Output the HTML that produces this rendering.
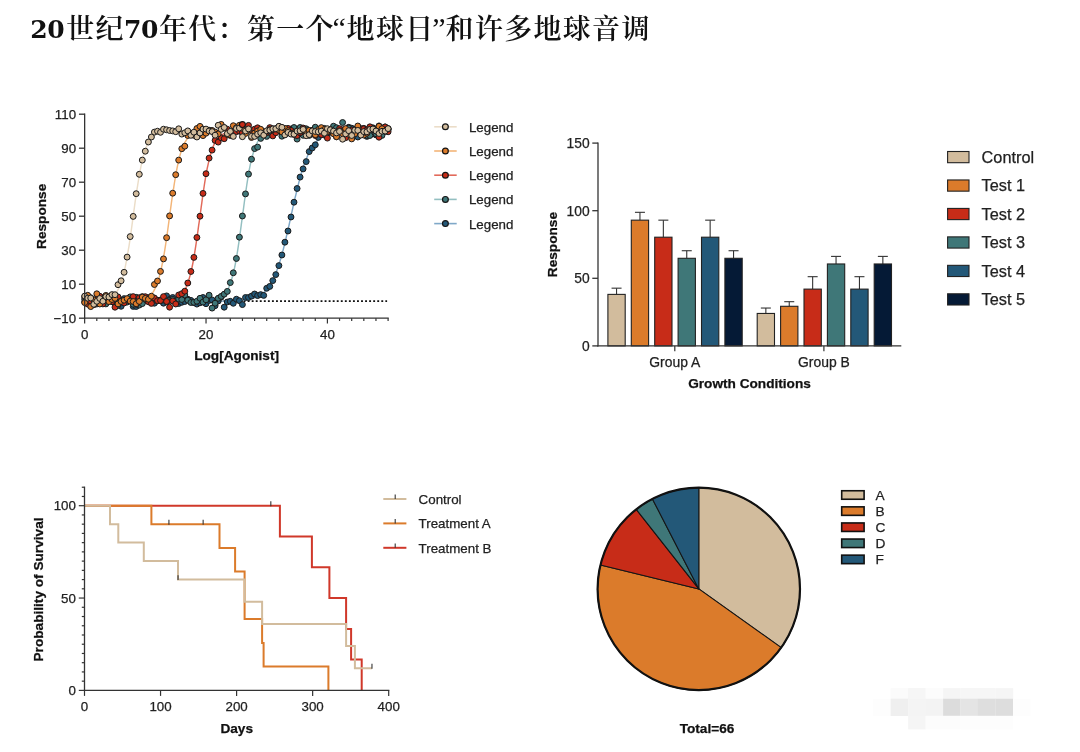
<!DOCTYPE html>
<html lang="zh-CN">
<head>
<meta charset="utf-8">
<title>20世纪70年代：第一个“地球日”和许多地球音调</title>
<style>
html,body{margin:0;padding:0;background:#fff;}
body{width:1080px;height:752px;overflow:hidden;font-family:"Liberation Sans", sans-serif;}
svg{display:block;}
svg text{font-family:"Liberation Sans", sans-serif;}
svg text.ttl{font-family:"Liberation Serif","Noto Serif CJK SC",serif;}
</style>
</head>
<body>
<svg width="1080" height="752" viewBox="0 0 1080 752">
<rect width="1080" height="752" fill="#ffffff"/>
<text class="ttl" y="37.4" fill="#111"><tspan x="30.2" y="37.9" font-weight="700" letter-spacing="-0.4" font-size="25" font-family='"DejaVu Serif", "Liberation Serif", serif'>20</tspan><tspan x="66.3" y="39.3" font-weight="600" letter-spacing="1.3" font-size="28">世纪</tspan><tspan x="124.0" y="37.9" font-weight="700" letter-spacing="-0.4" font-size="25" font-family='"DejaVu Serif", "Liberation Serif", serif'>70</tspan><tspan x="159.0" y="39.3" font-weight="600" letter-spacing="1.3" font-size="28">年代：第一个</tspan><tspan x="332.5" y="38.2" font-weight="400" letter-spacing="0" font-size="30">“</tspan><tspan x="346.6" y="39.3" font-weight="600" letter-spacing="1.3" font-size="28">地球日</tspan><tspan x="432.3" y="38.2" font-weight="400" letter-spacing="0" font-size="30">”</tspan><tspan x="445.6" y="39.3" font-weight="600" letter-spacing="1.3" font-size="28">和许多地球音调</tspan></text>
<line x1="85.65" y1="301.20" x2="387.10" y2="301.20" stroke="#111" stroke-width="1.8" stroke-dasharray="1.9 2.15"/>
<polyline fill="none" stroke="#7FA8C8" stroke-width="1.45" points="84.7,301.2 85.3,301.2 85.9,301.2 86.5,301.2 87.1,301.2 87.7,301.2 88.3,301.2 88.9,301.2 89.5,301.2 90.1,301.2 90.7,301.2 91.3,301.2 91.9,301.2 92.5,301.2 93.1,301.2 93.8,301.2 94.4,301.2 95.0,301.2 95.6,301.2 96.2,301.2 96.8,301.2 97.4,301.2 98.0,301.2 98.6,301.2 99.2,301.2 99.8,301.2 100.4,301.2 101.0,301.2 101.6,301.2 102.3,301.2 102.9,301.2 103.5,301.2 104.1,301.2 104.7,301.2 105.3,301.2 105.9,301.2 106.5,301.2 107.1,301.2 107.7,301.2 108.3,301.2 108.9,301.2 109.5,301.2 110.1,301.2 110.7,301.2 111.4,301.2 112.0,301.2 112.6,301.2 113.2,301.2 113.8,301.2 114.4,301.2 115.0,301.2 115.6,301.2 116.2,301.2 116.8,301.2 117.4,301.2 118.0,301.2 118.6,301.2 119.2,301.2 119.9,301.2 120.5,301.2 121.1,301.2 121.7,301.2 122.3,301.2 122.9,301.2 123.5,301.2 124.1,301.2 124.7,301.2 125.3,301.2 125.9,301.2 126.5,301.2 127.1,301.2 127.7,301.2 128.3,301.2 129.0,301.2 129.6,301.2 130.2,301.2 130.8,301.2 131.4,301.2 132.0,301.2 132.6,301.2 133.2,301.2 133.8,301.2 134.4,301.2 135.0,301.2 135.6,301.2 136.2,301.2 136.8,301.2 137.5,301.2 138.1,301.2 138.7,301.2 139.3,301.2 139.9,301.2 140.5,301.2 141.1,301.2 141.7,301.2 142.3,301.2 142.9,301.2 143.5,301.2 144.1,301.2 144.7,301.2 145.3,301.2 145.9,301.2 146.6,301.2 147.2,301.2 147.8,301.2 148.4,301.2 149.0,301.2 149.6,301.2 150.2,301.2 150.8,301.2 151.4,301.2 152.0,301.2 152.6,301.2 153.2,301.2 153.8,301.2 154.4,301.2 155.1,301.2 155.7,301.2 156.3,301.2 156.9,301.2 157.5,301.2 158.1,301.2 158.7,301.2 159.3,301.2 159.9,301.2 160.5,301.2 161.1,301.2 161.7,301.2 162.3,301.2 162.9,301.2 163.5,301.2 164.2,301.2 164.8,301.2 165.4,301.2 166.0,301.2 166.6,301.2 167.2,301.2 167.8,301.2 168.4,301.2 169.0,301.2 169.6,301.2 170.2,301.2 170.8,301.2 171.4,301.2 172.0,301.2 172.7,301.2 173.3,301.2 173.9,301.2 174.5,301.2 175.1,301.2 175.7,301.2 176.3,301.2 176.9,301.2 177.5,301.2 178.1,301.2 178.7,301.2 179.3,301.2 179.9,301.2 180.5,301.2 181.1,301.2 181.8,301.2 182.4,301.2 183.0,301.2 183.6,301.2 184.2,301.2 184.8,301.2 185.4,301.2 186.0,301.2 186.6,301.2 187.2,301.2 187.8,301.2 188.4,301.2 189.0,301.2 189.6,301.2 190.3,301.2 190.9,301.2 191.5,301.2 192.1,301.2 192.7,301.2 193.3,301.2 193.9,301.2 194.5,301.2 195.1,301.2 195.7,301.2 196.3,301.2 196.9,301.2 197.5,301.2 198.1,301.2 198.7,301.2 199.4,301.2 200.0,301.2 200.6,301.2 201.2,301.2 201.8,301.2 202.4,301.2 203.0,301.2 203.6,301.2 204.2,301.2 204.8,301.2 205.4,301.2 206.0,301.2 206.6,301.2 207.2,301.2 207.9,301.2 208.5,301.2 209.1,301.2 209.7,301.2 210.3,301.2 210.9,301.2 211.5,301.2 212.1,301.2 212.7,301.2 213.3,301.2 213.9,301.2 214.5,301.2 215.1,301.1 215.7,301.1 216.3,301.1 217.0,301.1 217.6,301.1 218.2,301.1 218.8,301.1 219.4,301.1 220.0,301.1 220.6,301.1 221.2,301.1 221.8,301.1 222.4,301.1 223.0,301.1 223.6,301.1 224.2,301.1 224.8,301.1 225.5,301.0 226.1,301.0 226.7,301.0 227.3,301.0 227.9,301.0 228.5,301.0 229.1,301.0 229.7,301.0 230.3,300.9 230.9,300.9 231.5,300.9 232.1,300.9 232.7,300.9 233.3,300.8 233.9,300.8 234.6,300.8 235.2,300.8 235.8,300.7 236.4,300.7 237.0,300.7 237.6,300.6 238.2,300.6 238.8,300.6 239.4,300.5 240.0,300.5 240.6,300.4 241.2,300.4 241.8,300.3 242.4,300.3 243.1,300.2 243.7,300.1 244.3,300.1 244.9,300.0 245.5,299.9 246.1,299.8 246.7,299.7 247.3,299.6 247.9,299.5 248.5,299.4 249.1,299.3 249.7,299.2 250.3,299.0 250.9,298.9 251.5,298.7 252.2,298.6 252.8,298.4 253.4,298.2 254.0,298.0 254.6,297.8 255.2,297.6 255.8,297.4 256.4,297.1 257.0,296.9 257.6,296.6 258.2,296.3 258.8,295.9 259.4,295.6 260.0,295.2 260.7,294.9 261.3,294.4 261.9,294.0 262.5,293.5 263.1,293.1 263.7,292.5 264.3,292.0 264.9,291.4 265.5,290.8 266.1,290.1 266.7,289.4 267.3,288.7 267.9,287.9 268.5,287.1 269.1,286.3 269.8,285.4 270.4,284.4 271.0,283.4 271.6,282.3 272.2,281.2 272.8,280.0 273.4,278.8 274.0,277.5 274.6,276.1 275.2,274.7 275.8,273.2 276.4,271.7 277.0,270.1 277.6,268.4 278.3,266.6 278.9,264.8 279.5,262.9 280.1,260.9 280.7,258.9 281.3,256.8 281.9,254.6 282.5,252.4 283.1,250.1 283.7,247.8 284.3,245.4 284.9,242.9 285.5,240.4 286.1,237.8 286.7,235.2 287.4,232.6 288.0,229.9 288.6,227.2 289.2,224.5 289.8,221.7 290.4,219.0 291.0,216.2 291.6,213.4 292.2,210.7 292.8,207.9 293.4,205.2 294.0,202.5 294.6,199.8 295.2,197.2 295.9,194.6 296.5,192.0 297.1,189.5 297.7,187.0 298.3,184.6 298.9,182.3 299.5,180.0 300.1,177.8 300.7,175.6 301.3,173.5 301.9,171.5 302.5,169.5 303.1,167.6 303.7,165.8 304.3,164.0 305.0,162.3 305.6,160.7 306.2,159.2 306.8,157.7 307.4,156.3 308.0,154.9 308.6,153.6 309.2,152.4 309.8,151.2 310.4,150.1 311.0,149.0 311.6,148.0 312.2,147.0 312.8,146.1 313.5,145.3 314.1,144.5 314.7,143.7 315.3,143.0 315.9,142.3 316.5,141.6 317.1,141.0 317.7,140.4 318.3,139.9 318.9,139.3 319.5,138.9 320.1,138.4 320.7,138.0 321.3,137.5 321.9,137.2 322.6,136.8 323.2,136.5 323.8,136.1 324.4,135.8 325.0,135.5 325.6,135.3 326.2,135.0 326.8,134.8 327.4,134.6 328.0,134.4 328.6,134.2 329.2,134.0 329.8,133.8 330.4,133.7 331.1,133.5 331.7,133.4 332.3,133.2 332.9,133.1 333.5,133.0 334.1,132.9 334.7,132.8 335.3,132.7 335.9,132.6 336.5,132.5 337.1,132.4 337.7,132.3 338.3,132.3 338.9,132.2 339.5,132.1 340.2,132.1 340.8,132.0 341.4,132.0 342.0,131.9 342.6,131.9 343.2,131.8 343.8,131.8 344.4,131.8 345.0,131.7 345.6,131.7 346.2,131.7 346.8,131.6 347.4,131.6 348.0,131.6 348.7,131.6 349.3,131.5 349.9,131.5 350.5,131.5 351.1,131.5 351.7,131.5 352.3,131.4 352.9,131.4 353.5,131.4 354.1,131.4 354.7,131.4 355.3,131.4 355.9,131.4 356.5,131.4 357.1,131.3 357.8,131.3 358.4,131.3 359.0,131.3 359.6,131.3 360.2,131.3 360.8,131.3 361.4,131.3 362.0,131.3 362.6,131.3 363.2,131.3 363.8,131.3 364.4,131.3 365.0,131.3 365.6,131.3 366.3,131.3 366.9,131.3 367.5,131.2 368.1,131.2 368.7,131.2 369.3,131.2 369.9,131.2 370.5,131.2 371.1,131.2 371.7,131.2 372.3,131.2 372.9,131.2 373.5,131.2 374.1,131.2 374.7,131.2 375.4,131.2 376.0,131.2 376.6,131.2 377.2,131.2 377.8,131.2 378.4,131.2 379.0,131.2 379.6,131.2 380.2,131.2 380.8,131.2 381.4,131.2 382.0,131.2 382.6,131.2 383.2,131.2 383.9,131.2 384.5,131.2 385.1,131.2 385.7,131.2 386.3,131.2 386.9,131.2 387.5,131.2 388.1,131.2"/>
<polyline fill="none" stroke="#93BFC1" stroke-width="1.45" points="84.7,301.2 85.3,301.2 85.9,301.2 86.5,301.2 87.1,301.2 87.7,301.2 88.3,301.2 88.9,301.2 89.5,301.2 90.1,301.2 90.7,301.2 91.3,301.2 91.9,301.2 92.5,301.2 93.1,301.2 93.8,301.2 94.4,301.2 95.0,301.2 95.6,301.2 96.2,301.2 96.8,301.2 97.4,301.2 98.0,301.2 98.6,301.2 99.2,301.2 99.8,301.2 100.4,301.2 101.0,301.2 101.6,301.2 102.3,301.2 102.9,301.2 103.5,301.2 104.1,301.2 104.7,301.2 105.3,301.2 105.9,301.2 106.5,301.2 107.1,301.2 107.7,301.2 108.3,301.2 108.9,301.2 109.5,301.2 110.1,301.2 110.7,301.2 111.4,301.2 112.0,301.2 112.6,301.2 113.2,301.2 113.8,301.2 114.4,301.2 115.0,301.2 115.6,301.2 116.2,301.2 116.8,301.2 117.4,301.2 118.0,301.2 118.6,301.2 119.2,301.2 119.9,301.2 120.5,301.2 121.1,301.2 121.7,301.2 122.3,301.2 122.9,301.2 123.5,301.2 124.1,301.2 124.7,301.2 125.3,301.2 125.9,301.2 126.5,301.2 127.1,301.2 127.7,301.2 128.3,301.2 129.0,301.2 129.6,301.2 130.2,301.2 130.8,301.2 131.4,301.2 132.0,301.2 132.6,301.2 133.2,301.2 133.8,301.2 134.4,301.2 135.0,301.2 135.6,301.2 136.2,301.2 136.8,301.2 137.5,301.2 138.1,301.2 138.7,301.2 139.3,301.2 139.9,301.2 140.5,301.2 141.1,301.2 141.7,301.2 142.3,301.2 142.9,301.2 143.5,301.2 144.1,301.2 144.7,301.2 145.3,301.2 145.9,301.2 146.6,301.2 147.2,301.2 147.8,301.2 148.4,301.2 149.0,301.2 149.6,301.2 150.2,301.2 150.8,301.2 151.4,301.2 152.0,301.2 152.6,301.2 153.2,301.2 153.8,301.2 154.4,301.2 155.1,301.2 155.7,301.2 156.3,301.2 156.9,301.2 157.5,301.2 158.1,301.2 158.7,301.2 159.3,301.2 159.9,301.2 160.5,301.2 161.1,301.2 161.7,301.2 162.3,301.2 162.9,301.2 163.5,301.2 164.2,301.2 164.8,301.2 165.4,301.2 166.0,301.2 166.6,301.2 167.2,301.2 167.8,301.2 168.4,301.2 169.0,301.2 169.6,301.2 170.2,301.2 170.8,301.2 171.4,301.2 172.0,301.2 172.7,301.2 173.3,301.2 173.9,301.2 174.5,301.2 175.1,301.2 175.7,301.2 176.3,301.2 176.9,301.2 177.5,301.2 178.1,301.2 178.7,301.2 179.3,301.2 179.9,301.2 180.5,301.2 181.1,301.2 181.8,301.2 182.4,301.2 183.0,301.2 183.6,301.2 184.2,301.2 184.8,301.2 185.4,301.2 186.0,301.2 186.6,301.2 187.2,301.2 187.8,301.2 188.4,301.2 189.0,301.2 189.6,301.2 190.3,301.2 190.9,301.2 191.5,301.2 192.1,301.2 192.7,301.2 193.3,301.2 193.9,301.2 194.5,301.2 195.1,301.2 195.7,301.2 196.3,301.2 196.9,301.1 197.5,301.1 198.1,301.1 198.7,301.1 199.4,301.1 200.0,301.1 200.6,301.1 201.2,301.1 201.8,301.1 202.4,301.1 203.0,301.0 203.6,301.0 204.2,301.0 204.8,301.0 205.4,301.0 206.0,300.9 206.6,300.9 207.2,300.9 207.9,300.8 208.5,300.8 209.1,300.8 209.7,300.7 210.3,300.6 210.9,300.6 211.5,300.5 212.1,300.4 212.7,300.3 213.3,300.3 213.9,300.1 214.5,300.0 215.1,299.9 215.7,299.7 216.3,299.6 217.0,299.4 217.6,299.2 218.2,299.0 218.8,298.7 219.4,298.4 220.0,298.1 220.6,297.8 221.2,297.4 221.8,297.0 222.4,296.5 223.0,296.0 223.6,295.4 224.2,294.8 224.8,294.1 225.5,293.3 226.1,292.5 226.7,291.5 227.3,290.5 227.9,289.4 228.5,288.1 229.1,286.7 229.7,285.3 230.3,283.6 230.9,281.8 231.5,279.9 232.1,277.8 232.7,275.6 233.3,273.1 233.9,270.5 234.6,267.7 235.2,264.7 235.8,261.5 236.4,258.1 237.0,254.5 237.6,250.8 238.2,246.9 238.8,242.8 239.4,238.6 240.0,234.3 240.6,229.9 241.2,225.3 241.8,220.8 242.4,216.2 243.1,211.6 243.7,207.1 244.3,202.5 244.9,198.1 245.5,193.8 246.1,189.6 246.7,185.5 247.3,181.6 247.9,177.9 248.5,174.3 249.1,170.9 249.7,167.7 250.3,164.7 250.9,161.9 251.5,159.3 252.2,156.8 252.8,154.6 253.4,152.5 254.0,150.6 254.6,148.8 255.2,147.1 255.8,145.7 256.4,144.3 257.0,143.0 257.6,141.9 258.2,140.9 258.8,139.9 259.4,139.1 260.0,138.3 260.7,137.6 261.3,137.0 261.9,136.4 262.5,135.9 263.1,135.4 263.7,135.0 264.3,134.6 264.9,134.3 265.5,134.0 266.1,133.7 266.7,133.4 267.3,133.2 267.9,133.0 268.5,132.8 269.1,132.7 269.8,132.5 270.4,132.4 271.0,132.3 271.6,132.1 272.2,132.1 272.8,132.0 273.4,131.9 274.0,131.8 274.6,131.8 275.2,131.7 275.8,131.6 276.4,131.6 277.0,131.6 277.6,131.5 278.3,131.5 278.9,131.5 279.5,131.4 280.1,131.4 280.7,131.4 281.3,131.4 281.9,131.4 282.5,131.3 283.1,131.3 283.7,131.3 284.3,131.3 284.9,131.3 285.5,131.3 286.1,131.3 286.7,131.3 287.4,131.3 288.0,131.3 288.6,131.2 289.2,131.2 289.8,131.2 290.4,131.2 291.0,131.2 291.6,131.2 292.2,131.2 292.8,131.2 293.4,131.2 294.0,131.2 294.6,131.2 295.2,131.2 295.9,131.2 296.5,131.2 297.1,131.2 297.7,131.2 298.3,131.2 298.9,131.2 299.5,131.2 300.1,131.2 300.7,131.2 301.3,131.2 301.9,131.2 302.5,131.2 303.1,131.2 303.7,131.2 304.3,131.2 305.0,131.2 305.6,131.2 306.2,131.2 306.8,131.2 307.4,131.2 308.0,131.2 308.6,131.2 309.2,131.2 309.8,131.2 310.4,131.2 311.0,131.2 311.6,131.2 312.2,131.2 312.8,131.2 313.5,131.2 314.1,131.2 314.7,131.2 315.3,131.2 315.9,131.2 316.5,131.2 317.1,131.2 317.7,131.2 318.3,131.2 318.9,131.2 319.5,131.2 320.1,131.2 320.7,131.2 321.3,131.2 321.9,131.2 322.6,131.2 323.2,131.2 323.8,131.2 324.4,131.2 325.0,131.2 325.6,131.2 326.2,131.2 326.8,131.2 327.4,131.2 328.0,131.2 328.6,131.2 329.2,131.2 329.8,131.2 330.4,131.2 331.1,131.2 331.7,131.2 332.3,131.2 332.9,131.2 333.5,131.2 334.1,131.2 334.7,131.2 335.3,131.2 335.9,131.2 336.5,131.2 337.1,131.2 337.7,131.2 338.3,131.2 338.9,131.2 339.5,131.2 340.2,131.2 340.8,131.2 341.4,131.2 342.0,131.2 342.6,131.2 343.2,131.2 343.8,131.2 344.4,131.2 345.0,131.2 345.6,131.2 346.2,131.2 346.8,131.2 347.4,131.2 348.0,131.2 348.7,131.2 349.3,131.2 349.9,131.2 350.5,131.2 351.1,131.2 351.7,131.2 352.3,131.2 352.9,131.2 353.5,131.2 354.1,131.2 354.7,131.2 355.3,131.2 355.9,131.2 356.5,131.2 357.1,131.2 357.8,131.2 358.4,131.2 359.0,131.2 359.6,131.2 360.2,131.2 360.8,131.2 361.4,131.2 362.0,131.2 362.6,131.2 363.2,131.2 363.8,131.2 364.4,131.2 365.0,131.2 365.6,131.2 366.3,131.2 366.9,131.2 367.5,131.2 368.1,131.2 368.7,131.2 369.3,131.2 369.9,131.2 370.5,131.2 371.1,131.2 371.7,131.2 372.3,131.2 372.9,131.2 373.5,131.2 374.1,131.2 374.7,131.2 375.4,131.2 376.0,131.2 376.6,131.2 377.2,131.2 377.8,131.2 378.4,131.2 379.0,131.2 379.6,131.2 380.2,131.2 380.8,131.2 381.4,131.2 382.0,131.2 382.6,131.2 383.2,131.2 383.9,131.2 384.5,131.2 385.1,131.2 385.7,131.2 386.3,131.2 386.9,131.2 387.5,131.2 388.1,131.2"/>
<polyline fill="none" stroke="#E26A5A" stroke-width="1.45" points="84.7,301.2 85.3,301.2 85.9,301.2 86.5,301.2 87.1,301.2 87.7,301.2 88.3,301.2 88.9,301.2 89.5,301.2 90.1,301.2 90.7,301.2 91.3,301.2 91.9,301.2 92.5,301.2 93.1,301.2 93.8,301.2 94.4,301.2 95.0,301.2 95.6,301.2 96.2,301.2 96.8,301.2 97.4,301.2 98.0,301.2 98.6,301.2 99.2,301.2 99.8,301.2 100.4,301.2 101.0,301.2 101.6,301.2 102.3,301.2 102.9,301.2 103.5,301.2 104.1,301.2 104.7,301.2 105.3,301.2 105.9,301.2 106.5,301.2 107.1,301.2 107.7,301.2 108.3,301.2 108.9,301.2 109.5,301.2 110.1,301.2 110.7,301.2 111.4,301.2 112.0,301.2 112.6,301.2 113.2,301.2 113.8,301.2 114.4,301.2 115.0,301.2 115.6,301.2 116.2,301.2 116.8,301.2 117.4,301.2 118.0,301.2 118.6,301.2 119.2,301.2 119.9,301.2 120.5,301.2 121.1,301.2 121.7,301.2 122.3,301.2 122.9,301.2 123.5,301.2 124.1,301.2 124.7,301.2 125.3,301.2 125.9,301.2 126.5,301.2 127.1,301.2 127.7,301.2 128.3,301.2 129.0,301.2 129.6,301.2 130.2,301.2 130.8,301.2 131.4,301.2 132.0,301.2 132.6,301.2 133.2,301.2 133.8,301.2 134.4,301.2 135.0,301.2 135.6,301.2 136.2,301.2 136.8,301.2 137.5,301.2 138.1,301.2 138.7,301.2 139.3,301.2 139.9,301.2 140.5,301.2 141.1,301.2 141.7,301.2 142.3,301.2 142.9,301.2 143.5,301.2 144.1,301.2 144.7,301.2 145.3,301.2 145.9,301.2 146.6,301.2 147.2,301.2 147.8,301.2 148.4,301.2 149.0,301.2 149.6,301.2 150.2,301.2 150.8,301.2 151.4,301.2 152.0,301.2 152.6,301.2 153.2,301.2 153.8,301.1 154.4,301.1 155.1,301.1 155.7,301.1 156.3,301.1 156.9,301.1 157.5,301.1 158.1,301.1 158.7,301.1 159.3,301.1 159.9,301.0 160.5,301.0 161.1,301.0 161.7,301.0 162.3,301.0 162.9,300.9 163.5,300.9 164.2,300.9 164.8,300.8 165.4,300.8 166.0,300.8 166.6,300.7 167.2,300.6 167.8,300.6 168.4,300.5 169.0,300.4 169.6,300.4 170.2,300.3 170.8,300.2 171.4,300.0 172.0,299.9 172.7,299.8 173.3,299.6 173.9,299.4 174.5,299.2 175.1,299.0 175.7,298.8 176.3,298.5 176.9,298.2 177.5,297.9 178.1,297.5 178.7,297.1 179.3,296.7 179.9,296.2 180.5,295.7 181.1,295.1 181.8,294.4 182.4,293.7 183.0,292.9 183.6,292.0 184.2,291.0 184.8,290.0 185.4,288.8 186.0,287.5 186.6,286.2 187.2,284.6 187.8,283.0 188.4,281.2 189.0,279.2 189.6,277.1 190.3,274.9 190.9,272.4 191.5,269.8 192.1,267.0 192.7,264.0 193.3,260.8 193.9,257.5 194.5,253.9 195.1,250.2 195.7,246.4 196.3,242.4 196.9,238.2 197.5,234.0 198.1,229.6 198.7,225.2 199.4,220.7 200.0,216.2 200.6,211.7 201.2,207.2 201.8,202.8 202.4,198.4 203.0,194.2 203.6,190.0 204.2,186.0 204.8,182.2 205.4,178.5 206.0,174.9 206.6,171.6 207.2,168.4 207.9,165.4 208.5,162.6 209.1,160.0 209.7,157.5 210.3,155.3 210.9,153.2 211.5,151.2 212.1,149.4 212.7,147.8 213.3,146.2 213.9,144.9 214.5,143.6 215.1,142.4 215.7,141.4 216.3,140.4 217.0,139.5 217.6,138.7 218.2,138.0 218.8,137.3 219.4,136.7 220.0,136.2 220.6,135.7 221.2,135.3 221.8,134.9 222.4,134.5 223.0,134.2 223.6,133.9 224.2,133.6 224.8,133.4 225.5,133.2 226.1,133.0 226.7,132.8 227.3,132.6 227.9,132.5 228.5,132.4 229.1,132.2 229.7,132.1 230.3,132.0 230.9,132.0 231.5,131.9 232.1,131.8 232.7,131.8 233.3,131.7 233.9,131.6 234.6,131.6 235.2,131.6 235.8,131.5 236.4,131.5 237.0,131.5 237.6,131.4 238.2,131.4 238.8,131.4 239.4,131.4 240.0,131.4 240.6,131.3 241.2,131.3 241.8,131.3 242.4,131.3 243.1,131.3 243.7,131.3 244.3,131.3 244.9,131.3 245.5,131.3 246.1,131.3 246.7,131.2 247.3,131.2 247.9,131.2 248.5,131.2 249.1,131.2 249.7,131.2 250.3,131.2 250.9,131.2 251.5,131.2 252.2,131.2 252.8,131.2 253.4,131.2 254.0,131.2 254.6,131.2 255.2,131.2 255.8,131.2 256.4,131.2 257.0,131.2 257.6,131.2 258.2,131.2 258.8,131.2 259.4,131.2 260.0,131.2 260.7,131.2 261.3,131.2 261.9,131.2 262.5,131.2 263.1,131.2 263.7,131.2 264.3,131.2 264.9,131.2 265.5,131.2 266.1,131.2 266.7,131.2 267.3,131.2 267.9,131.2 268.5,131.2 269.1,131.2 269.8,131.2 270.4,131.2 271.0,131.2 271.6,131.2 272.2,131.2 272.8,131.2 273.4,131.2 274.0,131.2 274.6,131.2 275.2,131.2 275.8,131.2 276.4,131.2 277.0,131.2 277.6,131.2 278.3,131.2 278.9,131.2 279.5,131.2 280.1,131.2 280.7,131.2 281.3,131.2 281.9,131.2 282.5,131.2 283.1,131.2 283.7,131.2 284.3,131.2 284.9,131.2 285.5,131.2 286.1,131.2 286.7,131.2 287.4,131.2 288.0,131.2 288.6,131.2 289.2,131.2 289.8,131.2 290.4,131.2 291.0,131.2 291.6,131.2 292.2,131.2 292.8,131.2 293.4,131.2 294.0,131.2 294.6,131.2 295.2,131.2 295.9,131.2 296.5,131.2 297.1,131.2 297.7,131.2 298.3,131.2 298.9,131.2 299.5,131.2 300.1,131.2 300.7,131.2 301.3,131.2 301.9,131.2 302.5,131.2 303.1,131.2 303.7,131.2 304.3,131.2 305.0,131.2 305.6,131.2 306.2,131.2 306.8,131.2 307.4,131.2 308.0,131.2 308.6,131.2 309.2,131.2 309.8,131.2 310.4,131.2 311.0,131.2 311.6,131.2 312.2,131.2 312.8,131.2 313.5,131.2 314.1,131.2 314.7,131.2 315.3,131.2 315.9,131.2 316.5,131.2 317.1,131.2 317.7,131.2 318.3,131.2 318.9,131.2 319.5,131.2 320.1,131.2 320.7,131.2 321.3,131.2 321.9,131.2 322.6,131.2 323.2,131.2 323.8,131.2 324.4,131.2 325.0,131.2 325.6,131.2 326.2,131.2 326.8,131.2 327.4,131.2 328.0,131.2 328.6,131.2 329.2,131.2 329.8,131.2 330.4,131.2 331.1,131.2 331.7,131.2 332.3,131.2 332.9,131.2 333.5,131.2 334.1,131.2 334.7,131.2 335.3,131.2 335.9,131.2 336.5,131.2 337.1,131.2 337.7,131.2 338.3,131.2 338.9,131.2 339.5,131.2 340.2,131.2 340.8,131.2 341.4,131.2 342.0,131.2 342.6,131.2 343.2,131.2 343.8,131.2 344.4,131.2 345.0,131.2 345.6,131.2 346.2,131.2 346.8,131.2 347.4,131.2 348.0,131.2 348.7,131.2 349.3,131.2 349.9,131.2 350.5,131.2 351.1,131.2 351.7,131.2 352.3,131.2 352.9,131.2 353.5,131.2 354.1,131.2 354.7,131.2 355.3,131.2 355.9,131.2 356.5,131.2 357.1,131.2 357.8,131.2 358.4,131.2 359.0,131.2 359.6,131.2 360.2,131.2 360.8,131.2 361.4,131.2 362.0,131.2 362.6,131.2 363.2,131.2 363.8,131.2 364.4,131.2 365.0,131.2 365.6,131.2 366.3,131.2 366.9,131.2 367.5,131.2 368.1,131.2 368.7,131.2 369.3,131.2 369.9,131.2 370.5,131.2 371.1,131.2 371.7,131.2 372.3,131.2 372.9,131.2 373.5,131.2 374.1,131.2 374.7,131.2 375.4,131.2 376.0,131.2 376.6,131.2 377.2,131.2 377.8,131.2 378.4,131.2 379.0,131.2 379.6,131.2 380.2,131.2 380.8,131.2 381.4,131.2 382.0,131.2 382.6,131.2 383.2,131.2 383.9,131.2 384.5,131.2 385.1,131.2 385.7,131.2 386.3,131.2 386.9,131.2 387.5,131.2 388.1,131.2"/>
<polyline fill="none" stroke="#F3B578" stroke-width="1.45" points="84.7,301.2 85.3,301.2 85.9,301.2 86.5,301.2 87.1,301.2 87.7,301.2 88.3,301.2 88.9,301.2 89.5,301.2 90.1,301.2 90.7,301.2 91.3,301.2 91.9,301.2 92.5,301.2 93.1,301.2 93.8,301.2 94.4,301.2 95.0,301.2 95.6,301.2 96.2,301.2 96.8,301.2 97.4,301.2 98.0,301.2 98.6,301.2 99.2,301.2 99.8,301.2 100.4,301.2 101.0,301.2 101.6,301.2 102.3,301.2 102.9,301.2 103.5,301.2 104.1,301.2 104.7,301.2 105.3,301.2 105.9,301.2 106.5,301.2 107.1,301.2 107.7,301.2 108.3,301.2 108.9,301.2 109.5,301.2 110.1,301.2 110.7,301.2 111.4,301.2 112.0,301.2 112.6,301.2 113.2,301.2 113.8,301.2 114.4,301.2 115.0,301.2 115.6,301.2 116.2,301.2 116.8,301.2 117.4,301.2 118.0,301.2 118.6,301.2 119.2,301.2 119.9,301.2 120.5,301.2 121.1,301.2 121.7,301.2 122.3,301.2 122.9,301.1 123.5,301.1 124.1,301.1 124.7,301.1 125.3,301.1 125.9,301.1 126.5,301.1 127.1,301.1 127.7,301.1 128.3,301.1 129.0,301.1 129.6,301.0 130.2,301.0 130.8,301.0 131.4,301.0 132.0,300.9 132.6,300.9 133.2,300.9 133.8,300.9 134.4,300.8 135.0,300.8 135.6,300.7 136.2,300.7 136.8,300.6 137.5,300.6 138.1,300.5 138.7,300.4 139.3,300.3 139.9,300.2 140.5,300.1 141.1,300.0 141.7,299.9 142.3,299.7 142.9,299.5 143.5,299.4 144.1,299.2 144.7,298.9 145.3,298.7 145.9,298.4 146.6,298.1 147.2,297.8 147.8,297.4 148.4,297.0 149.0,296.5 149.6,296.0 150.2,295.5 150.8,294.9 151.4,294.2 152.0,293.5 152.6,292.7 153.2,291.8 153.8,290.8 154.4,289.7 155.1,288.5 155.7,287.3 156.3,285.8 156.9,284.3 157.5,282.7 158.1,280.8 158.7,278.9 159.3,276.8 159.9,274.5 160.5,272.0 161.1,269.4 161.7,266.6 162.3,263.6 162.9,260.5 163.5,257.1 164.2,253.6 164.8,249.9 165.4,246.1 166.0,242.1 166.6,238.0 167.2,233.8 167.8,229.5 168.4,225.1 169.0,220.7 169.6,216.2 170.2,211.7 170.8,207.3 171.4,202.9 172.0,198.6 172.7,194.4 173.3,190.3 173.9,186.3 174.5,182.5 175.1,178.8 175.7,175.3 176.3,171.9 176.9,168.8 177.5,165.8 178.1,163.0 178.7,160.4 179.3,157.9 179.9,155.6 180.5,153.5 181.1,151.6 181.8,149.7 182.4,148.1 183.0,146.6 183.6,145.1 184.2,143.9 184.8,142.7 185.4,141.6 186.0,140.6 186.6,139.7 187.2,138.9 187.8,138.2 188.4,137.5 189.0,136.9 189.6,136.4 190.3,135.9 190.9,135.4 191.5,135.0 192.1,134.6 192.7,134.3 193.3,134.0 193.9,133.7 194.5,133.5 195.1,133.2 195.7,133.0 196.3,132.9 196.9,132.7 197.5,132.5 198.1,132.4 198.7,132.3 199.4,132.2 200.0,132.1 200.6,132.0 201.2,131.9 201.8,131.8 202.4,131.8 203.0,131.7 203.6,131.7 204.2,131.6 204.8,131.6 205.4,131.5 206.0,131.5 206.6,131.5 207.2,131.5 207.9,131.4 208.5,131.4 209.1,131.4 209.7,131.4 210.3,131.3 210.9,131.3 211.5,131.3 212.1,131.3 212.7,131.3 213.3,131.3 213.9,131.3 214.5,131.3 215.1,131.3 215.7,131.3 216.3,131.3 217.0,131.2 217.6,131.2 218.2,131.2 218.8,131.2 219.4,131.2 220.0,131.2 220.6,131.2 221.2,131.2 221.8,131.2 222.4,131.2 223.0,131.2 223.6,131.2 224.2,131.2 224.8,131.2 225.5,131.2 226.1,131.2 226.7,131.2 227.3,131.2 227.9,131.2 228.5,131.2 229.1,131.2 229.7,131.2 230.3,131.2 230.9,131.2 231.5,131.2 232.1,131.2 232.7,131.2 233.3,131.2 233.9,131.2 234.6,131.2 235.2,131.2 235.8,131.2 236.4,131.2 237.0,131.2 237.6,131.2 238.2,131.2 238.8,131.2 239.4,131.2 240.0,131.2 240.6,131.2 241.2,131.2 241.8,131.2 242.4,131.2 243.1,131.2 243.7,131.2 244.3,131.2 244.9,131.2 245.5,131.2 246.1,131.2 246.7,131.2 247.3,131.2 247.9,131.2 248.5,131.2 249.1,131.2 249.7,131.2 250.3,131.2 250.9,131.2 251.5,131.2 252.2,131.2 252.8,131.2 253.4,131.2 254.0,131.2 254.6,131.2 255.2,131.2 255.8,131.2 256.4,131.2 257.0,131.2 257.6,131.2 258.2,131.2 258.8,131.2 259.4,131.2 260.0,131.2 260.7,131.2 261.3,131.2 261.9,131.2 262.5,131.2 263.1,131.2 263.7,131.2 264.3,131.2 264.9,131.2 265.5,131.2 266.1,131.2 266.7,131.2 267.3,131.2 267.9,131.2 268.5,131.2 269.1,131.2 269.8,131.2 270.4,131.2 271.0,131.2 271.6,131.2 272.2,131.2 272.8,131.2 273.4,131.2 274.0,131.2 274.6,131.2 275.2,131.2 275.8,131.2 276.4,131.2 277.0,131.2 277.6,131.2 278.3,131.2 278.9,131.2 279.5,131.2 280.1,131.2 280.7,131.2 281.3,131.2 281.9,131.2 282.5,131.2 283.1,131.2 283.7,131.2 284.3,131.2 284.9,131.2 285.5,131.2 286.1,131.2 286.7,131.2 287.4,131.2 288.0,131.2 288.6,131.2 289.2,131.2 289.8,131.2 290.4,131.2 291.0,131.2 291.6,131.2 292.2,131.2 292.8,131.2 293.4,131.2 294.0,131.2 294.6,131.2 295.2,131.2 295.9,131.2 296.5,131.2 297.1,131.2 297.7,131.2 298.3,131.2 298.9,131.2 299.5,131.2 300.1,131.2 300.7,131.2 301.3,131.2 301.9,131.2 302.5,131.2 303.1,131.2 303.7,131.2 304.3,131.2 305.0,131.2 305.6,131.2 306.2,131.2 306.8,131.2 307.4,131.2 308.0,131.2 308.6,131.2 309.2,131.2 309.8,131.2 310.4,131.2 311.0,131.2 311.6,131.2 312.2,131.2 312.8,131.2 313.5,131.2 314.1,131.2 314.7,131.2 315.3,131.2 315.9,131.2 316.5,131.2 317.1,131.2 317.7,131.2 318.3,131.2 318.9,131.2 319.5,131.2 320.1,131.2 320.7,131.2 321.3,131.2 321.9,131.2 322.6,131.2 323.2,131.2 323.8,131.2 324.4,131.2 325.0,131.2 325.6,131.2 326.2,131.2 326.8,131.2 327.4,131.2 328.0,131.2 328.6,131.2 329.2,131.2 329.8,131.2 330.4,131.2 331.1,131.2 331.7,131.2 332.3,131.2 332.9,131.2 333.5,131.2 334.1,131.2 334.7,131.2 335.3,131.2 335.9,131.2 336.5,131.2 337.1,131.2 337.7,131.2 338.3,131.2 338.9,131.2 339.5,131.2 340.2,131.2 340.8,131.2 341.4,131.2 342.0,131.2 342.6,131.2 343.2,131.2 343.8,131.2 344.4,131.2 345.0,131.2 345.6,131.2 346.2,131.2 346.8,131.2 347.4,131.2 348.0,131.2 348.7,131.2 349.3,131.2 349.9,131.2 350.5,131.2 351.1,131.2 351.7,131.2 352.3,131.2 352.9,131.2 353.5,131.2 354.1,131.2 354.7,131.2 355.3,131.2 355.9,131.2 356.5,131.2 357.1,131.2 357.8,131.2 358.4,131.2 359.0,131.2 359.6,131.2 360.2,131.2 360.8,131.2 361.4,131.2 362.0,131.2 362.6,131.2 363.2,131.2 363.8,131.2 364.4,131.2 365.0,131.2 365.6,131.2 366.3,131.2 366.9,131.2 367.5,131.2 368.1,131.2 368.7,131.2 369.3,131.2 369.9,131.2 370.5,131.2 371.1,131.2 371.7,131.2 372.3,131.2 372.9,131.2 373.5,131.2 374.1,131.2 374.7,131.2 375.4,131.2 376.0,131.2 376.6,131.2 377.2,131.2 377.8,131.2 378.4,131.2 379.0,131.2 379.6,131.2 380.2,131.2 380.8,131.2 381.4,131.2 382.0,131.2 382.6,131.2 383.2,131.2 383.9,131.2 384.5,131.2 385.1,131.2 385.7,131.2 386.3,131.2 386.9,131.2 387.5,131.2 388.1,131.2"/>
<polyline fill="none" stroke="#EBDDC8" stroke-width="1.45" points="84.7,301.2 85.3,301.2 85.9,301.2 86.5,301.1 87.1,301.1 87.7,301.1 88.3,301.1 88.9,301.1 89.5,301.1 90.1,301.1 90.7,301.1 91.3,301.1 91.9,301.1 92.5,301.1 93.1,301.0 93.8,301.0 94.4,301.0 95.0,301.0 95.6,300.9 96.2,300.9 96.8,300.9 97.4,300.9 98.0,300.8 98.6,300.8 99.2,300.7 99.8,300.7 100.4,300.6 101.0,300.6 101.6,300.5 102.3,300.4 102.9,300.3 103.5,300.2 104.1,300.1 104.7,300.0 105.3,299.9 105.9,299.7 106.5,299.5 107.1,299.4 107.7,299.2 108.3,298.9 108.9,298.7 109.5,298.4 110.1,298.1 110.7,297.8 111.4,297.4 112.0,297.0 112.6,296.5 113.2,296.0 113.8,295.5 114.4,294.9 115.0,294.2 115.6,293.5 116.2,292.7 116.8,291.8 117.4,290.8 118.0,289.7 118.6,288.5 119.2,287.3 119.9,285.8 120.5,284.3 121.1,282.7 121.7,280.8 122.3,278.9 122.9,276.8 123.5,274.5 124.1,272.0 124.7,269.4 125.3,266.6 125.9,263.6 126.5,260.5 127.1,257.1 127.7,253.6 128.3,249.9 129.0,246.1 129.6,242.1 130.2,238.0 130.8,233.8 131.4,229.5 132.0,225.1 132.6,220.7 133.2,216.2 133.8,211.7 134.4,207.3 135.0,202.9 135.6,198.6 136.2,194.4 136.8,190.3 137.5,186.3 138.1,182.5 138.7,178.8 139.3,175.3 139.9,171.9 140.5,168.8 141.1,165.8 141.7,163.0 142.3,160.4 142.9,157.9 143.5,155.6 144.1,153.5 144.7,151.6 145.3,149.7 145.9,148.1 146.6,146.6 147.2,145.1 147.8,143.9 148.4,142.7 149.0,141.6 149.6,140.6 150.2,139.7 150.8,138.9 151.4,138.2 152.0,137.5 152.6,136.9 153.2,136.4 153.8,135.9 154.4,135.4 155.1,135.0 155.7,134.6 156.3,134.3 156.9,134.0 157.5,133.7 158.1,133.5 158.7,133.2 159.3,133.0 159.9,132.9 160.5,132.7 161.1,132.5 161.7,132.4 162.3,132.3 162.9,132.2 163.5,132.1 164.2,132.0 164.8,131.9 165.4,131.8 166.0,131.8 166.6,131.7 167.2,131.7 167.8,131.6 168.4,131.6 169.0,131.5 169.6,131.5 170.2,131.5 170.8,131.5 171.4,131.4 172.0,131.4 172.7,131.4 173.3,131.4 173.9,131.3 174.5,131.3 175.1,131.3 175.7,131.3 176.3,131.3 176.9,131.3 177.5,131.3 178.1,131.3 178.7,131.3 179.3,131.3 179.9,131.3 180.5,131.2 181.1,131.2 181.8,131.2 182.4,131.2 183.0,131.2 183.6,131.2 184.2,131.2 184.8,131.2 185.4,131.2 186.0,131.2 186.6,131.2 187.2,131.2 187.8,131.2 188.4,131.2 189.0,131.2 189.6,131.2 190.3,131.2 190.9,131.2 191.5,131.2 192.1,131.2 192.7,131.2 193.3,131.2 193.9,131.2 194.5,131.2 195.1,131.2 195.7,131.2 196.3,131.2 196.9,131.2 197.5,131.2 198.1,131.2 198.7,131.2 199.4,131.2 200.0,131.2 200.6,131.2 201.2,131.2 201.8,131.2 202.4,131.2 203.0,131.2 203.6,131.2 204.2,131.2 204.8,131.2 205.4,131.2 206.0,131.2 206.6,131.2 207.2,131.2 207.9,131.2 208.5,131.2 209.1,131.2 209.7,131.2 210.3,131.2 210.9,131.2 211.5,131.2 212.1,131.2 212.7,131.2 213.3,131.2 213.9,131.2 214.5,131.2 215.1,131.2 215.7,131.2 216.3,131.2 217.0,131.2 217.6,131.2 218.2,131.2 218.8,131.2 219.4,131.2 220.0,131.2 220.6,131.2 221.2,131.2 221.8,131.2 222.4,131.2 223.0,131.2 223.6,131.2 224.2,131.2 224.8,131.2 225.5,131.2 226.1,131.2 226.7,131.2 227.3,131.2 227.9,131.2 228.5,131.2 229.1,131.2 229.7,131.2 230.3,131.2 230.9,131.2 231.5,131.2 232.1,131.2 232.7,131.2 233.3,131.2 233.9,131.2 234.6,131.2 235.2,131.2 235.8,131.2 236.4,131.2 237.0,131.2 237.6,131.2 238.2,131.2 238.8,131.2 239.4,131.2 240.0,131.2 240.6,131.2 241.2,131.2 241.8,131.2 242.4,131.2 243.1,131.2 243.7,131.2 244.3,131.2 244.9,131.2 245.5,131.2 246.1,131.2 246.7,131.2 247.3,131.2 247.9,131.2 248.5,131.2 249.1,131.2 249.7,131.2 250.3,131.2 250.9,131.2 251.5,131.2 252.2,131.2 252.8,131.2 253.4,131.2 254.0,131.2 254.6,131.2 255.2,131.2 255.8,131.2 256.4,131.2 257.0,131.2 257.6,131.2 258.2,131.2 258.8,131.2 259.4,131.2 260.0,131.2 260.7,131.2 261.3,131.2 261.9,131.2 262.5,131.2 263.1,131.2 263.7,131.2 264.3,131.2 264.9,131.2 265.5,131.2 266.1,131.2 266.7,131.2 267.3,131.2 267.9,131.2 268.5,131.2 269.1,131.2 269.8,131.2 270.4,131.2 271.0,131.2 271.6,131.2 272.2,131.2 272.8,131.2 273.4,131.2 274.0,131.2 274.6,131.2 275.2,131.2 275.8,131.2 276.4,131.2 277.0,131.2 277.6,131.2 278.3,131.2 278.9,131.2 279.5,131.2 280.1,131.2 280.7,131.2 281.3,131.2 281.9,131.2 282.5,131.2 283.1,131.2 283.7,131.2 284.3,131.2 284.9,131.2 285.5,131.2 286.1,131.2 286.7,131.2 287.4,131.2 288.0,131.2 288.6,131.2 289.2,131.2 289.8,131.2 290.4,131.2 291.0,131.2 291.6,131.2 292.2,131.2 292.8,131.2 293.4,131.2 294.0,131.2 294.6,131.2 295.2,131.2 295.9,131.2 296.5,131.2 297.1,131.2 297.7,131.2 298.3,131.2 298.9,131.2 299.5,131.2 300.1,131.2 300.7,131.2 301.3,131.2 301.9,131.2 302.5,131.2 303.1,131.2 303.7,131.2 304.3,131.2 305.0,131.2 305.6,131.2 306.2,131.2 306.8,131.2 307.4,131.2 308.0,131.2 308.6,131.2 309.2,131.2 309.8,131.2 310.4,131.2 311.0,131.2 311.6,131.2 312.2,131.2 312.8,131.2 313.5,131.2 314.1,131.2 314.7,131.2 315.3,131.2 315.9,131.2 316.5,131.2 317.1,131.2 317.7,131.2 318.3,131.2 318.9,131.2 319.5,131.2 320.1,131.2 320.7,131.2 321.3,131.2 321.9,131.2 322.6,131.2 323.2,131.2 323.8,131.2 324.4,131.2 325.0,131.2 325.6,131.2 326.2,131.2 326.8,131.2 327.4,131.2 328.0,131.2 328.6,131.2 329.2,131.2 329.8,131.2 330.4,131.2 331.1,131.2 331.7,131.2 332.3,131.2 332.9,131.2 333.5,131.2 334.1,131.2 334.7,131.2 335.3,131.2 335.9,131.2 336.5,131.2 337.1,131.2 337.7,131.2 338.3,131.2 338.9,131.2 339.5,131.2 340.2,131.2 340.8,131.2 341.4,131.2 342.0,131.2 342.6,131.2 343.2,131.2 343.8,131.2 344.4,131.2 345.0,131.2 345.6,131.2 346.2,131.2 346.8,131.2 347.4,131.2 348.0,131.2 348.7,131.2 349.3,131.2 349.9,131.2 350.5,131.2 351.1,131.2 351.7,131.2 352.3,131.2 352.9,131.2 353.5,131.2 354.1,131.2 354.7,131.2 355.3,131.2 355.9,131.2 356.5,131.2 357.1,131.2 357.8,131.2 358.4,131.2 359.0,131.2 359.6,131.2 360.2,131.2 360.8,131.2 361.4,131.2 362.0,131.2 362.6,131.2 363.2,131.2 363.8,131.2 364.4,131.2 365.0,131.2 365.6,131.2 366.3,131.2 366.9,131.2 367.5,131.2 368.1,131.2 368.7,131.2 369.3,131.2 369.9,131.2 370.5,131.2 371.1,131.2 371.7,131.2 372.3,131.2 372.9,131.2 373.5,131.2 374.1,131.2 374.7,131.2 375.4,131.2 376.0,131.2 376.6,131.2 377.2,131.2 377.8,131.2 378.4,131.2 379.0,131.2 379.6,131.2 380.2,131.2 380.8,131.2 381.4,131.2 382.0,131.2 382.6,131.2 383.2,131.2 383.9,131.2 384.5,131.2 385.1,131.2 385.7,131.2 386.3,131.2 386.9,131.2 387.5,131.2 388.1,131.2"/>
<g fill="#235878" stroke="#1a1a1a" stroke-width="1.0"><circle cx="84.7" cy="302.0" r="2.95"/><circle cx="87.7" cy="299.6" r="2.95"/><circle cx="90.7" cy="301.9" r="2.95"/><circle cx="93.8" cy="302.2" r="2.95"/><circle cx="96.8" cy="304.0" r="2.95"/><circle cx="99.8" cy="301.9" r="2.95"/><circle cx="102.9" cy="297.8" r="2.95"/><circle cx="105.9" cy="299.9" r="2.95"/><circle cx="108.9" cy="298.0" r="2.95"/><circle cx="112.0" cy="300.4" r="2.95"/><circle cx="115.0" cy="300.0" r="2.95"/><circle cx="118.0" cy="300.6" r="2.95"/><circle cx="121.1" cy="306.3" r="2.95"/><circle cx="124.1" cy="298.6" r="2.95"/><circle cx="127.1" cy="299.7" r="2.95"/><circle cx="130.2" cy="299.7" r="2.95"/><circle cx="133.2" cy="306.4" r="2.95"/><circle cx="136.2" cy="306.5" r="2.95"/><circle cx="139.3" cy="303.9" r="2.95"/><circle cx="142.3" cy="302.6" r="2.95"/><circle cx="145.3" cy="300.3" r="2.95"/><circle cx="148.4" cy="301.3" r="2.95"/><circle cx="151.4" cy="299.6" r="2.95"/><circle cx="154.4" cy="303.2" r="2.95"/><circle cx="157.5" cy="300.3" r="2.95"/><circle cx="160.5" cy="300.0" r="2.95"/><circle cx="163.5" cy="303.2" r="2.95"/><circle cx="166.6" cy="295.9" r="2.95"/><circle cx="169.6" cy="299.5" r="2.95"/><circle cx="172.7" cy="297.5" r="2.95"/><circle cx="175.7" cy="303.1" r="2.95"/><circle cx="178.7" cy="303.5" r="2.95"/><circle cx="181.8" cy="302.3" r="2.95"/><circle cx="184.8" cy="301.5" r="2.95"/><circle cx="187.8" cy="299.3" r="2.95"/><circle cx="190.9" cy="300.4" r="2.95"/><circle cx="193.9" cy="302.6" r="2.95"/><circle cx="196.9" cy="304.1" r="2.95"/><circle cx="200.0" cy="302.8" r="2.95"/><circle cx="203.0" cy="297.5" r="2.95"/><circle cx="206.0" cy="303.7" r="2.95"/><circle cx="209.1" cy="300.4" r="2.95"/><circle cx="212.1" cy="299.9" r="2.95"/><circle cx="215.1" cy="305.7" r="2.95"/><circle cx="218.2" cy="301.0" r="2.95"/><circle cx="221.2" cy="297.1" r="2.95"/><circle cx="224.2" cy="307.2" r="2.95"/><circle cx="227.3" cy="302.0" r="2.95"/><circle cx="230.3" cy="301.3" r="2.95"/><circle cx="233.3" cy="303.3" r="2.95"/><circle cx="236.4" cy="299.2" r="2.95"/><circle cx="239.4" cy="300.7" r="2.95"/><circle cx="242.4" cy="304.6" r="2.95"/><circle cx="245.5" cy="297.5" r="2.95"/><circle cx="248.5" cy="297.5" r="2.95"/><circle cx="251.5" cy="296.1" r="2.95"/><circle cx="254.6" cy="294.0" r="2.95"/><circle cx="257.6" cy="295.6" r="2.95"/><circle cx="260.7" cy="294.6" r="2.95"/><circle cx="263.7" cy="295.4" r="2.95"/><circle cx="266.7" cy="288.3" r="2.95"/><circle cx="269.8" cy="286.4" r="2.95"/><circle cx="272.8" cy="280.6" r="2.95"/><circle cx="275.8" cy="274.6" r="2.95"/><circle cx="278.9" cy="265.6" r="2.95"/><circle cx="281.9" cy="255.0" r="2.95"/><circle cx="284.9" cy="242.2" r="2.95"/><circle cx="288.0" cy="231.0" r="2.95"/><circle cx="291.0" cy="217.0" r="2.95"/><circle cx="294.0" cy="202.2" r="2.95"/><circle cx="297.1" cy="188.5" r="2.95"/><circle cx="300.1" cy="177.1" r="2.95"/><circle cx="303.1" cy="168.9" r="2.95"/><circle cx="306.2" cy="161.6" r="2.95"/><circle cx="309.2" cy="151.6" r="2.95"/><circle cx="312.2" cy="148.0" r="2.95"/><circle cx="315.3" cy="144.8" r="2.95"/><circle cx="318.3" cy="137.4" r="2.95"/><circle cx="321.3" cy="134.6" r="2.95"/><circle cx="324.4" cy="135.1" r="2.95"/><circle cx="327.4" cy="133.6" r="2.95"/><circle cx="330.4" cy="132.1" r="2.95"/><circle cx="333.5" cy="128.1" r="2.95"/><circle cx="336.5" cy="130.3" r="2.95"/><circle cx="339.5" cy="130.3" r="2.95"/><circle cx="342.6" cy="129.9" r="2.95"/><circle cx="345.6" cy="136.1" r="2.95"/><circle cx="348.7" cy="127.3" r="2.95"/><circle cx="351.7" cy="128.2" r="2.95"/><circle cx="354.7" cy="129.4" r="2.95"/><circle cx="357.8" cy="137.0" r="2.95"/><circle cx="360.8" cy="132.9" r="2.95"/><circle cx="363.8" cy="128.4" r="2.95"/><circle cx="366.9" cy="136.4" r="2.95"/><circle cx="369.9" cy="131.5" r="2.95"/><circle cx="372.9" cy="127.8" r="2.95"/><circle cx="376.0" cy="134.9" r="2.95"/><circle cx="379.0" cy="125.9" r="2.95"/><circle cx="382.0" cy="129.2" r="2.95"/><circle cx="385.1" cy="131.3" r="2.95"/><circle cx="388.1" cy="129.9" r="2.95"/></g>
<g fill="#3F7778" stroke="#1a1a1a" stroke-width="1.0"><circle cx="84.7" cy="299.2" r="2.95"/><circle cx="87.7" cy="300.8" r="2.95"/><circle cx="90.7" cy="297.7" r="2.95"/><circle cx="93.8" cy="303.2" r="2.95"/><circle cx="96.8" cy="302.5" r="2.95"/><circle cx="99.8" cy="298.0" r="2.95"/><circle cx="102.9" cy="301.1" r="2.95"/><circle cx="105.9" cy="303.9" r="2.95"/><circle cx="108.9" cy="298.3" r="2.95"/><circle cx="112.0" cy="296.7" r="2.95"/><circle cx="115.0" cy="302.6" r="2.95"/><circle cx="118.0" cy="305.4" r="2.95"/><circle cx="121.1" cy="301.6" r="2.95"/><circle cx="124.1" cy="301.7" r="2.95"/><circle cx="127.1" cy="302.1" r="2.95"/><circle cx="130.2" cy="296.9" r="2.95"/><circle cx="133.2" cy="304.3" r="2.95"/><circle cx="136.2" cy="297.3" r="2.95"/><circle cx="139.3" cy="305.1" r="2.95"/><circle cx="142.3" cy="303.6" r="2.95"/><circle cx="145.3" cy="299.3" r="2.95"/><circle cx="148.4" cy="297.7" r="2.95"/><circle cx="151.4" cy="298.6" r="2.95"/><circle cx="154.4" cy="300.1" r="2.95"/><circle cx="157.5" cy="300.8" r="2.95"/><circle cx="160.5" cy="300.7" r="2.95"/><circle cx="163.5" cy="299.4" r="2.95"/><circle cx="166.6" cy="301.7" r="2.95"/><circle cx="169.6" cy="300.4" r="2.95"/><circle cx="172.7" cy="299.4" r="2.95"/><circle cx="175.7" cy="301.2" r="2.95"/><circle cx="178.7" cy="298.9" r="2.95"/><circle cx="181.8" cy="299.5" r="2.95"/><circle cx="184.8" cy="295.0" r="2.95"/><circle cx="187.8" cy="300.2" r="2.95"/><circle cx="190.9" cy="302.5" r="2.95"/><circle cx="193.9" cy="302.3" r="2.95"/><circle cx="196.9" cy="301.2" r="2.95"/><circle cx="200.0" cy="298.3" r="2.95"/><circle cx="203.0" cy="302.1" r="2.95"/><circle cx="206.0" cy="299.8" r="2.95"/><circle cx="209.1" cy="295.2" r="2.95"/><circle cx="212.1" cy="308.1" r="2.95"/><circle cx="215.1" cy="303.2" r="2.95"/><circle cx="218.2" cy="298.3" r="2.95"/><circle cx="221.2" cy="296.4" r="2.95"/><circle cx="224.2" cy="294.2" r="2.95"/><circle cx="227.3" cy="291.4" r="2.95"/><circle cx="230.3" cy="282.6" r="2.95"/><circle cx="233.3" cy="272.8" r="2.95"/><circle cx="236.4" cy="258.5" r="2.95"/><circle cx="239.4" cy="237.2" r="2.95"/><circle cx="242.4" cy="216.0" r="2.95"/><circle cx="245.5" cy="193.9" r="2.95"/><circle cx="248.5" cy="174.1" r="2.95"/><circle cx="251.5" cy="159.2" r="2.95"/><circle cx="254.6" cy="148.6" r="2.95"/><circle cx="257.6" cy="147.1" r="2.95"/><circle cx="260.7" cy="138.4" r="2.95"/><circle cx="263.7" cy="132.0" r="2.95"/><circle cx="266.7" cy="136.4" r="2.95"/><circle cx="269.8" cy="132.4" r="2.95"/><circle cx="272.8" cy="128.8" r="2.95"/><circle cx="275.8" cy="128.7" r="2.95"/><circle cx="278.9" cy="126.6" r="2.95"/><circle cx="281.9" cy="136.2" r="2.95"/><circle cx="284.9" cy="132.0" r="2.95"/><circle cx="288.0" cy="132.0" r="2.95"/><circle cx="291.0" cy="129.0" r="2.95"/><circle cx="294.0" cy="127.5" r="2.95"/><circle cx="297.1" cy="139.1" r="2.95"/><circle cx="300.1" cy="127.5" r="2.95"/><circle cx="303.1" cy="135.3" r="2.95"/><circle cx="306.2" cy="128.8" r="2.95"/><circle cx="309.2" cy="135.4" r="2.95"/><circle cx="312.2" cy="130.3" r="2.95"/><circle cx="315.3" cy="127.2" r="2.95"/><circle cx="318.3" cy="131.3" r="2.95"/><circle cx="321.3" cy="130.3" r="2.95"/><circle cx="324.4" cy="128.4" r="2.95"/><circle cx="327.4" cy="130.4" r="2.95"/><circle cx="330.4" cy="131.1" r="2.95"/><circle cx="333.5" cy="126.2" r="2.95"/><circle cx="336.5" cy="127.7" r="2.95"/><circle cx="339.5" cy="131.8" r="2.95"/><circle cx="342.6" cy="122.5" r="2.95"/><circle cx="345.6" cy="134.4" r="2.95"/><circle cx="348.7" cy="128.1" r="2.95"/><circle cx="351.7" cy="131.7" r="2.95"/><circle cx="354.7" cy="130.5" r="2.95"/><circle cx="357.8" cy="128.7" r="2.95"/><circle cx="360.8" cy="130.2" r="2.95"/><circle cx="363.8" cy="128.9" r="2.95"/><circle cx="366.9" cy="135.5" r="2.95"/><circle cx="369.9" cy="135.5" r="2.95"/><circle cx="372.9" cy="129.0" r="2.95"/><circle cx="376.0" cy="133.8" r="2.95"/><circle cx="379.0" cy="134.0" r="2.95"/><circle cx="382.0" cy="135.4" r="2.95"/><circle cx="385.1" cy="127.0" r="2.95"/><circle cx="388.1" cy="128.6" r="2.95"/></g>
<g fill="#C72C18" stroke="#1a1a1a" stroke-width="1.0"><circle cx="84.7" cy="296.7" r="2.95"/><circle cx="87.7" cy="304.1" r="2.95"/><circle cx="90.7" cy="301.2" r="2.95"/><circle cx="93.8" cy="304.7" r="2.95"/><circle cx="96.8" cy="298.9" r="2.95"/><circle cx="99.8" cy="296.3" r="2.95"/><circle cx="102.9" cy="303.9" r="2.95"/><circle cx="105.9" cy="296.4" r="2.95"/><circle cx="108.9" cy="298.2" r="2.95"/><circle cx="112.0" cy="301.7" r="2.95"/><circle cx="115.0" cy="307.2" r="2.95"/><circle cx="118.0" cy="296.9" r="2.95"/><circle cx="121.1" cy="301.5" r="2.95"/><circle cx="124.1" cy="303.0" r="2.95"/><circle cx="127.1" cy="300.0" r="2.95"/><circle cx="130.2" cy="299.9" r="2.95"/><circle cx="133.2" cy="296.6" r="2.95"/><circle cx="136.2" cy="304.3" r="2.95"/><circle cx="139.3" cy="297.7" r="2.95"/><circle cx="142.3" cy="296.6" r="2.95"/><circle cx="145.3" cy="296.7" r="2.95"/><circle cx="148.4" cy="301.7" r="2.95"/><circle cx="151.4" cy="303.4" r="2.95"/><circle cx="154.4" cy="298.0" r="2.95"/><circle cx="157.5" cy="300.7" r="2.95"/><circle cx="160.5" cy="300.6" r="2.95"/><circle cx="163.5" cy="296.6" r="2.95"/><circle cx="166.6" cy="301.5" r="2.95"/><circle cx="169.6" cy="307.2" r="2.95"/><circle cx="172.7" cy="300.9" r="2.95"/><circle cx="175.7" cy="304.0" r="2.95"/><circle cx="178.7" cy="295.0" r="2.95"/><circle cx="181.8" cy="293.7" r="2.95"/><circle cx="184.8" cy="291.2" r="2.95"/><circle cx="187.8" cy="283.0" r="2.95"/><circle cx="190.9" cy="271.5" r="2.95"/><circle cx="193.9" cy="257.4" r="2.95"/><circle cx="196.9" cy="237.5" r="2.95"/><circle cx="200.0" cy="216.2" r="2.95"/><circle cx="203.0" cy="193.4" r="2.95"/><circle cx="206.0" cy="173.7" r="2.95"/><circle cx="209.1" cy="158.1" r="2.95"/><circle cx="212.1" cy="150.1" r="2.95"/><circle cx="215.1" cy="140.4" r="2.95"/><circle cx="218.2" cy="142.1" r="2.95"/><circle cx="221.2" cy="137.8" r="2.95"/><circle cx="224.2" cy="138.7" r="2.95"/><circle cx="227.3" cy="129.2" r="2.95"/><circle cx="230.3" cy="135.4" r="2.95"/><circle cx="233.3" cy="131.4" r="2.95"/><circle cx="236.4" cy="131.7" r="2.95"/><circle cx="239.4" cy="131.1" r="2.95"/><circle cx="242.4" cy="132.8" r="2.95"/><circle cx="245.5" cy="130.2" r="2.95"/><circle cx="248.5" cy="125.4" r="2.95"/><circle cx="251.5" cy="130.7" r="2.95"/><circle cx="254.6" cy="129.2" r="2.95"/><circle cx="257.6" cy="127.8" r="2.95"/><circle cx="260.7" cy="131.5" r="2.95"/><circle cx="263.7" cy="134.7" r="2.95"/><circle cx="266.7" cy="132.6" r="2.95"/><circle cx="269.8" cy="127.6" r="2.95"/><circle cx="272.8" cy="135.9" r="2.95"/><circle cx="275.8" cy="132.7" r="2.95"/><circle cx="278.9" cy="127.8" r="2.95"/><circle cx="281.9" cy="128.4" r="2.95"/><circle cx="284.9" cy="130.8" r="2.95"/><circle cx="288.0" cy="128.4" r="2.95"/><circle cx="291.0" cy="130.4" r="2.95"/><circle cx="294.0" cy="134.5" r="2.95"/><circle cx="297.1" cy="135.6" r="2.95"/><circle cx="300.1" cy="132.8" r="2.95"/><circle cx="303.1" cy="128.0" r="2.95"/><circle cx="306.2" cy="132.6" r="2.95"/><circle cx="309.2" cy="133.6" r="2.95"/><circle cx="312.2" cy="133.2" r="2.95"/><circle cx="315.3" cy="135.5" r="2.95"/><circle cx="318.3" cy="131.2" r="2.95"/><circle cx="321.3" cy="134.5" r="2.95"/><circle cx="324.4" cy="129.7" r="2.95"/><circle cx="327.4" cy="138.1" r="2.95"/><circle cx="330.4" cy="129.9" r="2.95"/><circle cx="333.5" cy="132.8" r="2.95"/><circle cx="336.5" cy="136.8" r="2.95"/><circle cx="339.5" cy="128.6" r="2.95"/><circle cx="342.6" cy="131.7" r="2.95"/><circle cx="345.6" cy="137.7" r="2.95"/><circle cx="348.7" cy="133.5" r="2.95"/><circle cx="351.7" cy="130.0" r="2.95"/><circle cx="354.7" cy="132.3" r="2.95"/><circle cx="357.8" cy="128.5" r="2.95"/><circle cx="360.8" cy="128.6" r="2.95"/><circle cx="363.8" cy="128.8" r="2.95"/><circle cx="366.9" cy="129.9" r="2.95"/><circle cx="369.9" cy="126.8" r="2.95"/><circle cx="372.9" cy="128.8" r="2.95"/><circle cx="376.0" cy="129.5" r="2.95"/><circle cx="379.0" cy="137.2" r="2.95"/><circle cx="382.0" cy="128.1" r="2.95"/><circle cx="385.1" cy="126.9" r="2.95"/><circle cx="388.1" cy="131.8" r="2.95"/></g>
<g fill="#DB7B2B" stroke="#1a1a1a" stroke-width="1.0"><circle cx="84.7" cy="302.6" r="2.95"/><circle cx="87.7" cy="295.3" r="2.95"/><circle cx="90.7" cy="306.6" r="2.95"/><circle cx="93.8" cy="299.8" r="2.95"/><circle cx="96.8" cy="293.8" r="2.95"/><circle cx="99.8" cy="304.0" r="2.95"/><circle cx="102.9" cy="299.1" r="2.95"/><circle cx="105.9" cy="295.4" r="2.95"/><circle cx="108.9" cy="301.6" r="2.95"/><circle cx="112.0" cy="299.5" r="2.95"/><circle cx="115.0" cy="298.4" r="2.95"/><circle cx="118.0" cy="303.9" r="2.95"/><circle cx="121.1" cy="301.4" r="2.95"/><circle cx="124.1" cy="300.2" r="2.95"/><circle cx="127.1" cy="298.6" r="2.95"/><circle cx="130.2" cy="301.1" r="2.95"/><circle cx="133.2" cy="301.5" r="2.95"/><circle cx="136.2" cy="303.7" r="2.95"/><circle cx="139.3" cy="301.4" r="2.95"/><circle cx="142.3" cy="297.1" r="2.95"/><circle cx="145.3" cy="298.4" r="2.95"/><circle cx="148.4" cy="299.2" r="2.95"/><circle cx="151.4" cy="296.2" r="2.95"/><circle cx="154.4" cy="284.5" r="2.95"/><circle cx="157.5" cy="281.0" r="2.95"/><circle cx="160.5" cy="271.4" r="2.95"/><circle cx="163.5" cy="258.9" r="2.95"/><circle cx="166.6" cy="237.7" r="2.95"/><circle cx="169.6" cy="215.9" r="2.95"/><circle cx="172.7" cy="193.2" r="2.95"/><circle cx="175.7" cy="174.7" r="2.95"/><circle cx="178.7" cy="160.1" r="2.95"/><circle cx="181.8" cy="148.7" r="2.95"/><circle cx="184.8" cy="146.2" r="2.95"/><circle cx="187.8" cy="135.5" r="2.95"/><circle cx="190.9" cy="134.2" r="2.95"/><circle cx="193.9" cy="135.3" r="2.95"/><circle cx="196.9" cy="128.5" r="2.95"/><circle cx="200.0" cy="126.4" r="2.95"/><circle cx="203.0" cy="135.6" r="2.95"/><circle cx="206.0" cy="133.2" r="2.95"/><circle cx="209.1" cy="130.2" r="2.95"/><circle cx="212.1" cy="130.4" r="2.95"/><circle cx="215.1" cy="132.1" r="2.95"/><circle cx="218.2" cy="133.9" r="2.95"/><circle cx="221.2" cy="124.4" r="2.95"/><circle cx="224.2" cy="127.7" r="2.95"/><circle cx="227.3" cy="134.5" r="2.95"/><circle cx="230.3" cy="135.0" r="2.95"/><circle cx="233.3" cy="125.7" r="2.95"/><circle cx="236.4" cy="127.8" r="2.95"/><circle cx="239.4" cy="125.3" r="2.95"/><circle cx="242.4" cy="128.4" r="2.95"/><circle cx="245.5" cy="133.5" r="2.95"/><circle cx="248.5" cy="130.1" r="2.95"/><circle cx="251.5" cy="137.5" r="2.95"/><circle cx="254.6" cy="133.1" r="2.95"/><circle cx="257.6" cy="131.0" r="2.95"/><circle cx="260.7" cy="129.3" r="2.95"/><circle cx="263.7" cy="133.1" r="2.95"/><circle cx="266.7" cy="131.2" r="2.95"/><circle cx="269.8" cy="129.5" r="2.95"/><circle cx="272.8" cy="129.7" r="2.95"/><circle cx="275.8" cy="128.9" r="2.95"/><circle cx="278.9" cy="130.2" r="2.95"/><circle cx="281.9" cy="131.9" r="2.95"/><circle cx="284.9" cy="128.4" r="2.95"/><circle cx="288.0" cy="130.7" r="2.95"/><circle cx="291.0" cy="133.4" r="2.95"/><circle cx="294.0" cy="132.8" r="2.95"/><circle cx="297.1" cy="130.9" r="2.95"/><circle cx="300.1" cy="131.2" r="2.95"/><circle cx="303.1" cy="130.4" r="2.95"/><circle cx="306.2" cy="130.9" r="2.95"/><circle cx="309.2" cy="130.3" r="2.95"/><circle cx="312.2" cy="131.3" r="2.95"/><circle cx="315.3" cy="134.7" r="2.95"/><circle cx="318.3" cy="129.6" r="2.95"/><circle cx="321.3" cy="127.6" r="2.95"/><circle cx="324.4" cy="129.5" r="2.95"/><circle cx="327.4" cy="131.4" r="2.95"/><circle cx="330.4" cy="129.5" r="2.95"/><circle cx="333.5" cy="133.8" r="2.95"/><circle cx="336.5" cy="136.7" r="2.95"/><circle cx="339.5" cy="130.7" r="2.95"/><circle cx="342.6" cy="133.7" r="2.95"/><circle cx="345.6" cy="128.6" r="2.95"/><circle cx="348.7" cy="134.2" r="2.95"/><circle cx="351.7" cy="138.9" r="2.95"/><circle cx="354.7" cy="134.0" r="2.95"/><circle cx="357.8" cy="126.0" r="2.95"/><circle cx="360.8" cy="132.0" r="2.95"/><circle cx="363.8" cy="135.1" r="2.95"/><circle cx="366.9" cy="133.2" r="2.95"/><circle cx="369.9" cy="129.3" r="2.95"/><circle cx="372.9" cy="129.3" r="2.95"/><circle cx="376.0" cy="130.3" r="2.95"/><circle cx="379.0" cy="126.3" r="2.95"/><circle cx="382.0" cy="128.7" r="2.95"/><circle cx="385.1" cy="130.9" r="2.95"/><circle cx="388.1" cy="129.0" r="2.95"/></g>
<g fill="#D2BC9D" stroke="#1a1a1a" stroke-width="1.0"><circle cx="84.7" cy="296.1" r="2.95"/><circle cx="87.7" cy="298.2" r="2.95"/><circle cx="90.7" cy="298.0" r="2.95"/><circle cx="93.8" cy="304.3" r="2.95"/><circle cx="96.8" cy="301.3" r="2.95"/><circle cx="99.8" cy="298.5" r="2.95"/><circle cx="102.9" cy="301.2" r="2.95"/><circle cx="105.9" cy="296.6" r="2.95"/><circle cx="108.9" cy="297.0" r="2.95"/><circle cx="112.0" cy="294.6" r="2.95"/><circle cx="115.0" cy="294.7" r="2.95"/><circle cx="118.0" cy="284.7" r="2.95"/><circle cx="121.1" cy="280.8" r="2.95"/><circle cx="124.1" cy="272.3" r="2.95"/><circle cx="127.1" cy="257.1" r="2.95"/><circle cx="130.2" cy="236.6" r="2.95"/><circle cx="133.2" cy="216.4" r="2.95"/><circle cx="136.2" cy="193.7" r="2.95"/><circle cx="139.3" cy="174.3" r="2.95"/><circle cx="142.3" cy="160.1" r="2.95"/><circle cx="145.3" cy="151.2" r="2.95"/><circle cx="148.4" cy="142.0" r="2.95"/><circle cx="151.4" cy="137.0" r="2.95"/><circle cx="154.4" cy="132.1" r="2.95"/><circle cx="157.5" cy="131.2" r="2.95"/><circle cx="160.5" cy="132.3" r="2.95"/><circle cx="163.5" cy="129.2" r="2.95"/><circle cx="166.6" cy="129.8" r="2.95"/><circle cx="169.6" cy="130.5" r="2.95"/><circle cx="172.7" cy="130.9" r="2.95"/><circle cx="175.7" cy="131.7" r="2.95"/><circle cx="178.7" cy="128.8" r="2.95"/><circle cx="181.8" cy="134.1" r="2.95"/><circle cx="184.8" cy="132.8" r="2.95"/><circle cx="187.8" cy="130.9" r="2.95"/><circle cx="190.9" cy="135.3" r="2.95"/><circle cx="193.9" cy="132.2" r="2.95"/><circle cx="196.9" cy="137.0" r="2.95"/><circle cx="200.0" cy="133.0" r="2.95"/><circle cx="203.0" cy="129.1" r="2.95"/><circle cx="206.0" cy="129.1" r="2.95"/><circle cx="209.1" cy="131.0" r="2.95"/><circle cx="212.1" cy="131.6" r="2.95"/><circle cx="215.1" cy="135.2" r="2.95"/><circle cx="218.2" cy="125.3" r="2.95"/><circle cx="221.2" cy="129.3" r="2.95"/><circle cx="224.2" cy="127.5" r="2.95"/><circle cx="227.3" cy="133.6" r="2.95"/><circle cx="230.3" cy="131.4" r="2.95"/><circle cx="233.3" cy="136.4" r="2.95"/><circle cx="236.4" cy="128.5" r="2.95"/><circle cx="239.4" cy="128.0" r="2.95"/><circle cx="242.4" cy="136.7" r="2.95"/><circle cx="245.5" cy="131.0" r="2.95"/><circle cx="248.5" cy="128.9" r="2.95"/><circle cx="251.5" cy="136.3" r="2.95"/><circle cx="254.6" cy="136.4" r="2.95"/><circle cx="257.6" cy="134.1" r="2.95"/><circle cx="260.7" cy="132.8" r="2.95"/><circle cx="263.7" cy="135.2" r="2.95"/><circle cx="266.7" cy="130.8" r="2.95"/><circle cx="269.8" cy="130.1" r="2.95"/><circle cx="272.8" cy="128.9" r="2.95"/><circle cx="275.8" cy="128.7" r="2.95"/><circle cx="278.9" cy="126.3" r="2.95"/><circle cx="281.9" cy="127.3" r="2.95"/><circle cx="284.9" cy="134.9" r="2.95"/><circle cx="288.0" cy="132.4" r="2.95"/><circle cx="291.0" cy="134.1" r="2.95"/><circle cx="294.0" cy="134.2" r="2.95"/><circle cx="297.1" cy="131.1" r="2.95"/><circle cx="300.1" cy="130.8" r="2.95"/><circle cx="303.1" cy="129.4" r="2.95"/><circle cx="306.2" cy="135.7" r="2.95"/><circle cx="309.2" cy="134.6" r="2.95"/><circle cx="312.2" cy="130.9" r="2.95"/><circle cx="315.3" cy="131.5" r="2.95"/><circle cx="318.3" cy="131.8" r="2.95"/><circle cx="321.3" cy="131.1" r="2.95"/><circle cx="324.4" cy="133.2" r="2.95"/><circle cx="327.4" cy="128.7" r="2.95"/><circle cx="330.4" cy="129.8" r="2.95"/><circle cx="333.5" cy="131.1" r="2.95"/><circle cx="336.5" cy="132.9" r="2.95"/><circle cx="339.5" cy="131.4" r="2.95"/><circle cx="342.6" cy="139.2" r="2.95"/><circle cx="345.6" cy="133.9" r="2.95"/><circle cx="348.7" cy="130.7" r="2.95"/><circle cx="351.7" cy="135.5" r="2.95"/><circle cx="354.7" cy="130.2" r="2.95"/><circle cx="357.8" cy="130.4" r="2.95"/><circle cx="360.8" cy="135.1" r="2.95"/><circle cx="363.8" cy="131.6" r="2.95"/><circle cx="366.9" cy="131.8" r="2.95"/><circle cx="369.9" cy="129.5" r="2.95"/><circle cx="372.9" cy="129.0" r="2.95"/><circle cx="376.0" cy="131.0" r="2.95"/><circle cx="379.0" cy="133.5" r="2.95"/><circle cx="382.0" cy="131.3" r="2.95"/><circle cx="385.1" cy="131.1" r="2.95"/><circle cx="388.1" cy="128.6" r="2.95"/></g>
<circle cx="242.4" cy="124.6" r="2.95" fill="#C72C18" stroke="#151515" stroke-width="1.15"/>
<line x1="84.65" y1="113.55" x2="84.65" y2="318.85" stroke="#333333" stroke-width="1.3"/>
<line x1="84.00" y1="318.20" x2="388.75" y2="318.20" stroke="#333333" stroke-width="1.3"/>
<line x1="78.95" y1="318.20" x2="84.65" y2="318.20" stroke="#333333" stroke-width="1.3"/>
<text x="76.05" y="323.00" font-size="13.33" text-anchor="end" fill="#222222" stroke="#222222" stroke-width="0.25">−10</text>
<line x1="78.95" y1="284.20" x2="84.65" y2="284.20" stroke="#333333" stroke-width="1.3"/>
<text x="76.05" y="289.00" font-size="13.33" text-anchor="end" fill="#222222" stroke="#222222" stroke-width="0.25">10</text>
<line x1="78.95" y1="250.20" x2="84.65" y2="250.20" stroke="#333333" stroke-width="1.3"/>
<text x="76.05" y="255.00" font-size="13.33" text-anchor="end" fill="#222222" stroke="#222222" stroke-width="0.25">30</text>
<line x1="78.95" y1="216.20" x2="84.65" y2="216.20" stroke="#333333" stroke-width="1.3"/>
<text x="76.05" y="221.00" font-size="13.33" text-anchor="end" fill="#222222" stroke="#222222" stroke-width="0.25">50</text>
<line x1="78.95" y1="182.20" x2="84.65" y2="182.20" stroke="#333333" stroke-width="1.3"/>
<text x="76.05" y="187.00" font-size="13.33" text-anchor="end" fill="#222222" stroke="#222222" stroke-width="0.25">70</text>
<line x1="78.95" y1="148.20" x2="84.65" y2="148.20" stroke="#333333" stroke-width="1.3"/>
<text x="76.05" y="153.00" font-size="13.33" text-anchor="end" fill="#222222" stroke="#222222" stroke-width="0.25">90</text>
<line x1="78.95" y1="114.20" x2="84.65" y2="114.20" stroke="#333333" stroke-width="1.3"/>
<text x="76.05" y="119.00" font-size="13.33" text-anchor="end" fill="#222222" stroke="#222222" stroke-width="0.25">110</text>
<line x1="84.65" y1="318.20" x2="84.65" y2="323.50" stroke="#333333" stroke-width="1.2"/>
<line x1="96.79" y1="318.20" x2="96.79" y2="320.90" stroke="#333333" stroke-width="1.2"/>
<line x1="108.93" y1="318.20" x2="108.93" y2="320.90" stroke="#333333" stroke-width="1.2"/>
<line x1="121.06" y1="318.20" x2="121.06" y2="320.90" stroke="#333333" stroke-width="1.2"/>
<line x1="133.20" y1="318.20" x2="133.20" y2="320.90" stroke="#333333" stroke-width="1.2"/>
<line x1="145.34" y1="318.20" x2="145.34" y2="320.90" stroke="#333333" stroke-width="1.2"/>
<line x1="157.48" y1="318.20" x2="157.48" y2="320.90" stroke="#333333" stroke-width="1.2"/>
<line x1="169.62" y1="318.20" x2="169.62" y2="320.90" stroke="#333333" stroke-width="1.2"/>
<line x1="181.75" y1="318.20" x2="181.75" y2="320.90" stroke="#333333" stroke-width="1.2"/>
<line x1="193.89" y1="318.20" x2="193.89" y2="320.90" stroke="#333333" stroke-width="1.2"/>
<line x1="206.03" y1="318.20" x2="206.03" y2="323.50" stroke="#333333" stroke-width="1.2"/>
<line x1="218.17" y1="318.20" x2="218.17" y2="320.90" stroke="#333333" stroke-width="1.2"/>
<line x1="230.31" y1="318.20" x2="230.31" y2="320.90" stroke="#333333" stroke-width="1.2"/>
<line x1="242.44" y1="318.20" x2="242.44" y2="320.90" stroke="#333333" stroke-width="1.2"/>
<line x1="254.58" y1="318.20" x2="254.58" y2="320.90" stroke="#333333" stroke-width="1.2"/>
<line x1="266.72" y1="318.20" x2="266.72" y2="320.90" stroke="#333333" stroke-width="1.2"/>
<line x1="278.86" y1="318.20" x2="278.86" y2="320.90" stroke="#333333" stroke-width="1.2"/>
<line x1="291.00" y1="318.20" x2="291.00" y2="320.90" stroke="#333333" stroke-width="1.2"/>
<line x1="303.13" y1="318.20" x2="303.13" y2="320.90" stroke="#333333" stroke-width="1.2"/>
<line x1="315.27" y1="318.20" x2="315.27" y2="320.90" stroke="#333333" stroke-width="1.2"/>
<line x1="327.41" y1="318.20" x2="327.41" y2="323.50" stroke="#333333" stroke-width="1.2"/>
<line x1="339.55" y1="318.20" x2="339.55" y2="320.90" stroke="#333333" stroke-width="1.2"/>
<line x1="351.69" y1="318.20" x2="351.69" y2="320.90" stroke="#333333" stroke-width="1.2"/>
<line x1="363.82" y1="318.20" x2="363.82" y2="320.90" stroke="#333333" stroke-width="1.2"/>
<line x1="375.96" y1="318.20" x2="375.96" y2="320.90" stroke="#333333" stroke-width="1.2"/>
<line x1="388.10" y1="318.20" x2="388.10" y2="320.90" stroke="#333333" stroke-width="1.2"/>
<text x="84.65" y="339.00" font-size="13.33" text-anchor="middle" fill="#222222" stroke="#222222" stroke-width="0.25">0</text>
<text x="206.03" y="339.00" font-size="13.33" text-anchor="middle" fill="#222222" stroke="#222222" stroke-width="0.25">20</text>
<text x="327.41" y="339.00" font-size="13.33" text-anchor="middle" fill="#222222" stroke="#222222" stroke-width="0.25">40</text>
<text x="236.60" y="360.20" font-size="13.65" text-anchor="middle" font-weight="700" fill="#111" stroke="#111" stroke-width="0.25">Log[Agonist]</text>
<text x="45.60" y="216.30" font-size="13.65" text-anchor="middle" font-weight="700" transform="rotate(-90 45.60 216.30)" fill="#111" stroke="#111" stroke-width="0.25">Response</text>
<line x1="434.20" y1="126.80" x2="456.70" y2="126.80" stroke="#EBDDC8" stroke-width="1.6"/>
<circle cx="445.4" cy="126.8" r="2.9" fill="#D2BC9D" stroke="#151515" stroke-width="1.2"/>
<text x="468.90" y="131.70" font-size="13.33" text-anchor="start" fill="#222222" stroke="#222222" stroke-width="0.25">Legend</text>
<line x1="434.20" y1="151.00" x2="456.70" y2="151.00" stroke="#F3B578" stroke-width="1.6"/>
<circle cx="445.4" cy="151.0" r="2.9" fill="#DB7B2B" stroke="#151515" stroke-width="1.2"/>
<text x="468.90" y="155.90" font-size="13.33" text-anchor="start" fill="#222222" stroke="#222222" stroke-width="0.25">Legend</text>
<line x1="434.20" y1="175.20" x2="456.70" y2="175.20" stroke="#E26A5A" stroke-width="1.6"/>
<circle cx="445.4" cy="175.2" r="2.9" fill="#C72C18" stroke="#151515" stroke-width="1.2"/>
<text x="468.90" y="180.10" font-size="13.33" text-anchor="start" fill="#222222" stroke="#222222" stroke-width="0.25">Legend</text>
<line x1="434.20" y1="199.40" x2="456.70" y2="199.40" stroke="#93BFC1" stroke-width="1.6"/>
<circle cx="445.4" cy="199.4" r="2.9" fill="#3F7778" stroke="#151515" stroke-width="1.2"/>
<text x="468.90" y="204.30" font-size="13.33" text-anchor="start" fill="#222222" stroke="#222222" stroke-width="0.25">Legend</text>
<line x1="434.20" y1="223.60" x2="456.70" y2="223.60" stroke="#7FA8C8" stroke-width="1.6"/>
<circle cx="445.4" cy="223.6" r="2.9" fill="#235878" stroke="#151515" stroke-width="1.2"/>
<text x="468.90" y="228.50" font-size="13.33" text-anchor="start" fill="#222222" stroke="#222222" stroke-width="0.25">Legend</text>
<line x1="616.55" y1="294.39" x2="616.55" y2="288.17" stroke="#333333" stroke-width="1.1"/>
<line x1="611.55" y1="288.17" x2="621.55" y2="288.17" stroke="#333333" stroke-width="1.1"/>
<rect x="607.90" y="294.39" width="17.3" height="51.51" fill="#D2BC9D" stroke="#222" stroke-width="1.1"/>
<line x1="639.95" y1="220.16" x2="639.95" y2="212.32" stroke="#333333" stroke-width="1.1"/>
<line x1="634.95" y1="212.32" x2="644.95" y2="212.32" stroke="#333333" stroke-width="1.1"/>
<rect x="631.30" y="220.16" width="17.3" height="125.74" fill="#DB7B2B" stroke="#222" stroke-width="1.1"/>
<line x1="663.35" y1="237.20" x2="663.35" y2="220.16" stroke="#333333" stroke-width="1.1"/>
<line x1="658.35" y1="220.16" x2="668.35" y2="220.16" stroke="#333333" stroke-width="1.1"/>
<rect x="654.70" y="237.20" width="17.3" height="108.70" fill="#C72C18" stroke="#222" stroke-width="1.1"/>
<line x1="686.75" y1="258.29" x2="686.75" y2="250.72" stroke="#333333" stroke-width="1.1"/>
<line x1="681.75" y1="250.72" x2="691.75" y2="250.72" stroke="#333333" stroke-width="1.1"/>
<rect x="678.10" y="258.29" width="17.3" height="87.61" fill="#3F7778" stroke="#222" stroke-width="1.1"/>
<line x1="710.15" y1="237.20" x2="710.15" y2="220.16" stroke="#333333" stroke-width="1.1"/>
<line x1="705.15" y1="220.16" x2="715.15" y2="220.16" stroke="#333333" stroke-width="1.1"/>
<rect x="701.50" y="237.20" width="17.3" height="108.70" fill="#235878" stroke="#222" stroke-width="1.1"/>
<line x1="733.55" y1="258.29" x2="733.55" y2="250.72" stroke="#333333" stroke-width="1.1"/>
<line x1="728.55" y1="250.72" x2="738.55" y2="250.72" stroke="#333333" stroke-width="1.1"/>
<rect x="724.90" y="258.29" width="17.3" height="87.61" fill="#051A36" stroke="#222" stroke-width="1.1"/>
<line x1="765.85" y1="313.45" x2="765.85" y2="308.04" stroke="#333333" stroke-width="1.1"/>
<line x1="760.85" y1="308.04" x2="770.85" y2="308.04" stroke="#333333" stroke-width="1.1"/>
<rect x="757.20" y="313.45" width="17.3" height="32.45" fill="#D2BC9D" stroke="#222" stroke-width="1.1"/>
<line x1="789.25" y1="306.29" x2="789.25" y2="301.69" stroke="#333333" stroke-width="1.1"/>
<line x1="784.25" y1="301.69" x2="794.25" y2="301.69" stroke="#333333" stroke-width="1.1"/>
<rect x="780.60" y="306.29" width="17.3" height="39.61" fill="#DB7B2B" stroke="#222" stroke-width="1.1"/>
<line x1="812.65" y1="289.12" x2="812.65" y2="276.68" stroke="#333333" stroke-width="1.1"/>
<line x1="807.65" y1="276.68" x2="817.65" y2="276.68" stroke="#333333" stroke-width="1.1"/>
<rect x="804.00" y="289.12" width="17.3" height="56.78" fill="#C72C18" stroke="#222" stroke-width="1.1"/>
<line x1="836.05" y1="263.97" x2="836.05" y2="256.40" stroke="#333333" stroke-width="1.1"/>
<line x1="831.05" y1="256.40" x2="841.05" y2="256.40" stroke="#333333" stroke-width="1.1"/>
<rect x="827.40" y="263.97" width="17.3" height="81.93" fill="#3F7778" stroke="#222" stroke-width="1.1"/>
<line x1="859.45" y1="289.12" x2="859.45" y2="276.68" stroke="#333333" stroke-width="1.1"/>
<line x1="854.45" y1="276.68" x2="864.45" y2="276.68" stroke="#333333" stroke-width="1.1"/>
<rect x="850.80" y="289.12" width="17.3" height="56.78" fill="#235878" stroke="#222" stroke-width="1.1"/>
<line x1="882.85" y1="263.97" x2="882.85" y2="256.40" stroke="#333333" stroke-width="1.1"/>
<line x1="877.85" y1="256.40" x2="887.85" y2="256.40" stroke="#333333" stroke-width="1.1"/>
<rect x="874.20" y="263.97" width="17.3" height="81.93" fill="#051A36" stroke="#222" stroke-width="1.1"/>
<line x1="598.00" y1="142.45" x2="598.00" y2="346.55" stroke="#333333" stroke-width="1.3"/>
<line x1="597.35" y1="345.90" x2="901.30" y2="345.90" stroke="#333333" stroke-width="1.3"/>
<line x1="592.30" y1="345.90" x2="598.00" y2="345.90" stroke="#333333" stroke-width="1.3"/>
<text x="589.60" y="350.90" font-size="13.8" text-anchor="end" fill="#222222" stroke="#222222" stroke-width="0.25">0</text>
<line x1="592.30" y1="278.30" x2="598.00" y2="278.30" stroke="#333333" stroke-width="1.3"/>
<text x="589.60" y="283.30" font-size="13.8" text-anchor="end" fill="#222222" stroke="#222222" stroke-width="0.25">50</text>
<line x1="592.30" y1="210.70" x2="598.00" y2="210.70" stroke="#333333" stroke-width="1.3"/>
<text x="589.60" y="215.70" font-size="13.8" text-anchor="end" fill="#222222" stroke="#222222" stroke-width="0.25">100</text>
<line x1="592.30" y1="143.10" x2="598.00" y2="143.10" stroke="#333333" stroke-width="1.3"/>
<text x="589.60" y="148.10" font-size="13.8" text-anchor="end" fill="#222222" stroke="#222222" stroke-width="0.25">150</text>
<line x1="674.80" y1="345.90" x2="674.80" y2="351.20" stroke="#333333" stroke-width="1.2"/>
<text x="674.80" y="367.20" font-size="13.9" text-anchor="middle" fill="#222222" stroke="#222222" stroke-width="0.25">Group A</text>
<line x1="823.90" y1="345.90" x2="823.90" y2="351.20" stroke="#333333" stroke-width="1.2"/>
<text x="823.90" y="367.20" font-size="13.9" text-anchor="middle" fill="#222222" stroke="#222222" stroke-width="0.25">Group B</text>
<text x="749.50" y="387.60" font-size="13.65" text-anchor="middle" font-weight="700" fill="#111" stroke="#111" stroke-width="0.25">Growth Conditions</text>
<text x="556.60" y="244.60" font-size="13.65" text-anchor="middle" font-weight="700" transform="rotate(-90 556.60 244.60)" fill="#111" stroke="#111" stroke-width="0.25">Response</text>
<rect x="947.6" y="151.50" width="21.4" height="11.2" fill="#D2BC9D" stroke="#222" stroke-width="1.1"/>
<text x="981.60" y="162.90" font-size="16.3" text-anchor="start" fill="#222222" stroke="#222222" stroke-width="0.25">Control</text>
<rect x="947.6" y="179.96" width="21.4" height="11.2" fill="#DB7B2B" stroke="#222" stroke-width="1.1"/>
<text x="981.60" y="191.36" font-size="16.3" text-anchor="start" fill="#222222" stroke="#222222" stroke-width="0.25">Test 1</text>
<rect x="947.6" y="208.42" width="21.4" height="11.2" fill="#C72C18" stroke="#222" stroke-width="1.1"/>
<text x="981.60" y="219.82" font-size="16.3" text-anchor="start" fill="#222222" stroke="#222222" stroke-width="0.25">Test 2</text>
<rect x="947.6" y="236.88" width="21.4" height="11.2" fill="#3F7778" stroke="#222" stroke-width="1.1"/>
<text x="981.60" y="248.28" font-size="16.3" text-anchor="start" fill="#222222" stroke="#222222" stroke-width="0.25">Test 3</text>
<rect x="947.6" y="265.34" width="21.4" height="11.2" fill="#235878" stroke="#222" stroke-width="1.1"/>
<text x="981.60" y="276.74" font-size="16.3" text-anchor="start" fill="#222222" stroke="#222222" stroke-width="0.25">Test 4</text>
<rect x="947.6" y="293.80" width="21.4" height="11.2" fill="#051A36" stroke="#222" stroke-width="1.1"/>
<text x="981.60" y="305.20" font-size="16.3" text-anchor="start" fill="#222222" stroke="#222222" stroke-width="0.25">Test 5</text>
<polyline fill="none" stroke="#D0382A" stroke-width="2" stroke-linejoin="miter" points="84.5,505.7 279.9,505.7 279.9,536.5 311.9,536.5 311.9,567.2 329.4,567.2 329.4,598.0 346.1,598.0 346.1,628.9 351.1,628.9 351.1,659.6 361.7,659.6 361.7,690.4"/>
<line x1="270.82" y1="506.20" x2="270.82" y2="501.30" stroke="#333" stroke-width="1.1"/>
<polyline fill="none" stroke="#DB7B2B" stroke-width="2" stroke-linejoin="miter" points="84.5,505.7 151.4,505.7 151.4,524.2 219.5,524.2 219.5,548.0 235.1,548.0 235.1,571.6 244.6,571.6 244.6,619.1 262.1,619.1 262.1,642.9 263.6,642.9 263.6,666.6 328.4,666.6 328.4,690.4"/>
<line x1="168.92" y1="524.67" x2="168.92" y2="519.77" stroke="#333" stroke-width="1.1"/>
<line x1="203.14" y1="524.67" x2="203.14" y2="519.77" stroke="#333" stroke-width="1.1"/>
<polyline fill="none" stroke="#D2BC9D" stroke-width="2" stroke-linejoin="miter" points="84.5,505.7 110.0,505.7 110.0,524.2 118.3,524.2 118.3,542.6 143.8,542.6 143.8,561.1 178.0,561.1 178.0,579.6 244.6,579.6 244.6,601.7 262.1,601.7 262.1,623.9 346.1,623.9 346.1,646.1 354.9,646.1 354.9,668.2 372.0,668.2"/>
<line x1="178.04" y1="580.08" x2="178.04" y2="575.18" stroke="#333" stroke-width="1.1"/>
<line x1="371.97" y1="668.74" x2="371.97" y2="663.84" stroke="#333" stroke-width="1.1"/>
<line x1="84.50" y1="486.63" x2="84.50" y2="691.05" stroke="#333333" stroke-width="1.3"/>
<line x1="83.85" y1="690.40" x2="389.35" y2="690.40" stroke="#333333" stroke-width="1.3"/>
<line x1="78.80" y1="690.40" x2="84.50" y2="690.40" stroke="#333333" stroke-width="1.2"/>
<line x1="81.80" y1="681.16" x2="84.50" y2="681.16" stroke="#333333" stroke-width="1.2"/>
<line x1="81.80" y1="671.93" x2="84.50" y2="671.93" stroke="#333333" stroke-width="1.2"/>
<line x1="81.80" y1="662.69" x2="84.50" y2="662.69" stroke="#333333" stroke-width="1.2"/>
<line x1="81.80" y1="653.46" x2="84.50" y2="653.46" stroke="#333333" stroke-width="1.2"/>
<line x1="81.80" y1="644.23" x2="84.50" y2="644.23" stroke="#333333" stroke-width="1.2"/>
<line x1="81.80" y1="634.99" x2="84.50" y2="634.99" stroke="#333333" stroke-width="1.2"/>
<line x1="81.80" y1="625.75" x2="84.50" y2="625.75" stroke="#333333" stroke-width="1.2"/>
<line x1="81.80" y1="616.52" x2="84.50" y2="616.52" stroke="#333333" stroke-width="1.2"/>
<line x1="81.80" y1="607.28" x2="84.50" y2="607.28" stroke="#333333" stroke-width="1.2"/>
<line x1="78.80" y1="598.05" x2="84.50" y2="598.05" stroke="#333333" stroke-width="1.2"/>
<line x1="81.80" y1="588.81" x2="84.50" y2="588.81" stroke="#333333" stroke-width="1.2"/>
<line x1="81.80" y1="579.58" x2="84.50" y2="579.58" stroke="#333333" stroke-width="1.2"/>
<line x1="81.80" y1="570.35" x2="84.50" y2="570.35" stroke="#333333" stroke-width="1.2"/>
<line x1="81.80" y1="561.11" x2="84.50" y2="561.11" stroke="#333333" stroke-width="1.2"/>
<line x1="81.80" y1="551.88" x2="84.50" y2="551.88" stroke="#333333" stroke-width="1.2"/>
<line x1="81.80" y1="542.64" x2="84.50" y2="542.64" stroke="#333333" stroke-width="1.2"/>
<line x1="81.80" y1="533.40" x2="84.50" y2="533.40" stroke="#333333" stroke-width="1.2"/>
<line x1="81.80" y1="524.17" x2="84.50" y2="524.17" stroke="#333333" stroke-width="1.2"/>
<line x1="81.80" y1="514.93" x2="84.50" y2="514.93" stroke="#333333" stroke-width="1.2"/>
<line x1="78.80" y1="505.70" x2="84.50" y2="505.70" stroke="#333333" stroke-width="1.2"/>
<line x1="81.80" y1="496.46" x2="84.50" y2="496.46" stroke="#333333" stroke-width="1.2"/>
<line x1="81.80" y1="487.23" x2="84.50" y2="487.23" stroke="#333333" stroke-width="1.2"/>
<text x="75.90" y="695.00" font-size="13.33" text-anchor="end" fill="#222222" stroke="#222222" stroke-width="0.25">0</text>
<text x="75.90" y="602.65" font-size="13.33" text-anchor="end" fill="#222222" stroke="#222222" stroke-width="0.25">50</text>
<text x="75.90" y="510.30" font-size="13.33" text-anchor="end" fill="#222222" stroke="#222222" stroke-width="0.25">100</text>
<line x1="84.50" y1="690.40" x2="84.50" y2="695.90" stroke="#333333" stroke-width="1.2"/>
<text x="84.50" y="711.30" font-size="13.33" text-anchor="middle" fill="#222222" stroke="#222222" stroke-width="0.25">0</text>
<line x1="160.55" y1="690.40" x2="160.55" y2="695.90" stroke="#333333" stroke-width="1.2"/>
<text x="160.55" y="711.30" font-size="13.33" text-anchor="middle" fill="#222222" stroke="#222222" stroke-width="0.25">100</text>
<line x1="236.60" y1="690.40" x2="236.60" y2="695.90" stroke="#333333" stroke-width="1.2"/>
<text x="236.60" y="711.30" font-size="13.33" text-anchor="middle" fill="#222222" stroke="#222222" stroke-width="0.25">200</text>
<line x1="312.65" y1="690.40" x2="312.65" y2="695.90" stroke="#333333" stroke-width="1.2"/>
<text x="312.65" y="711.30" font-size="13.33" text-anchor="middle" fill="#222222" stroke="#222222" stroke-width="0.25">300</text>
<line x1="388.70" y1="690.40" x2="388.70" y2="695.90" stroke="#333333" stroke-width="1.2"/>
<text x="388.70" y="711.30" font-size="13.33" text-anchor="middle" fill="#222222" stroke="#222222" stroke-width="0.25">400</text>
<text x="236.70" y="732.50" font-size="13.65" text-anchor="middle" font-weight="700" fill="#111" stroke="#111" stroke-width="0.25">Days</text>
<text x="43.30" y="589.50" font-size="13.65" text-anchor="middle" font-weight="700" transform="rotate(-90 43.30 589.50)" fill="#111" stroke="#111" stroke-width="0.25">Probability of Survival</text>
<line x1="383.30" y1="499.00" x2="406.40" y2="499.00" stroke="#D2BC9D" stroke-width="2"/>
<line x1="395.20" y1="499.00" x2="395.20" y2="494.60" stroke="#333" stroke-width="1.1"/>
<text x="418.60" y="503.90" font-size="13.33" text-anchor="start" fill="#222222" stroke="#222222" stroke-width="0.25">Control</text>
<line x1="383.30" y1="523.40" x2="406.40" y2="523.40" stroke="#DB7B2B" stroke-width="2"/>
<line x1="395.20" y1="523.40" x2="395.20" y2="519.00" stroke="#333" stroke-width="1.1"/>
<text x="418.60" y="528.30" font-size="13.33" text-anchor="start" fill="#222222" stroke="#222222" stroke-width="0.25">Treatment A</text>
<line x1="383.30" y1="547.80" x2="406.40" y2="547.80" stroke="#D0382A" stroke-width="2"/>
<line x1="395.20" y1="547.80" x2="395.20" y2="543.40" stroke="#333" stroke-width="1.1"/>
<text x="418.60" y="552.70" font-size="13.33" text-anchor="start" fill="#222222" stroke="#222222" stroke-width="0.25">Treatment B</text>
<path d="M698.8,588.9 L698.80,487.70 A101.2,101.2 0 0 1 781.24,647.60 Z" fill="#D2BC9D" stroke="#151515" stroke-width="1.05" stroke-linejoin="round"/>
<path d="M698.8,588.9 L781.24,647.60 A101.2,101.2 0 0 1 600.45,565.04 Z" fill="#DB7B2B" stroke="#151515" stroke-width="1.05" stroke-linejoin="round"/>
<path d="M698.8,588.9 L600.45,565.04 A101.2,101.2 0 0 1 636.24,509.35 Z" fill="#C72C18" stroke="#151515" stroke-width="1.05" stroke-linejoin="round"/>
<path d="M698.8,588.9 L636.24,509.35 A101.2,101.2 0 0 1 652.43,498.95 Z" fill="#3F7778" stroke="#151515" stroke-width="1.05" stroke-linejoin="round"/>
<path d="M698.8,588.9 L652.43,498.95 A101.2,101.2 0 0 1 698.80,487.70 Z" fill="#235878" stroke="#151515" stroke-width="1.05" stroke-linejoin="round"/>
<circle cx="698.8" cy="588.9" r="101.2" fill="none" stroke="#111" stroke-width="2.2"/>
<text x="707.00" y="732.50" font-size="13.65" text-anchor="middle" font-weight="700" fill="#111" stroke="#111" stroke-width="0.25">Total=66</text>
<rect x="841.7" y="490.75" width="22.4" height="8.5" fill="#D2BC9D" stroke="#111" stroke-width="1.6"/>
<text x="875.60" y="499.90" font-size="13.7" text-anchor="start" fill="#222222" stroke="#222222" stroke-width="0.25">A</text>
<rect x="841.7" y="506.85" width="22.4" height="8.5" fill="#DB7B2B" stroke="#111" stroke-width="1.6"/>
<text x="875.60" y="516.00" font-size="13.7" text-anchor="start" fill="#222222" stroke="#222222" stroke-width="0.25">B</text>
<rect x="841.7" y="522.95" width="22.4" height="8.5" fill="#C72C18" stroke="#111" stroke-width="1.6"/>
<text x="875.60" y="532.10" font-size="13.7" text-anchor="start" fill="#222222" stroke="#222222" stroke-width="0.25">C</text>
<rect x="841.7" y="539.05" width="22.4" height="8.5" fill="#3F7778" stroke="#111" stroke-width="1.6"/>
<text x="875.60" y="548.20" font-size="13.7" text-anchor="start" fill="#222222" stroke="#222222" stroke-width="0.25">D</text>
<rect x="841.7" y="555.15" width="22.4" height="8.5" fill="#235878" stroke="#111" stroke-width="1.6"/>
<text x="875.60" y="564.30" font-size="13.7" text-anchor="start" fill="#222222" stroke="#222222" stroke-width="0.25">F</text>
<rect x="890.6" y="688.1" width="17.7" height="10.8" fill="#fbfbfb"/>
<rect x="908.1" y="688.1" width="17.7" height="10.8" fill="#f6f6f6"/>
<rect x="925.6" y="688.1" width="17.7" height="10.8" fill="#fcfcfc"/>
<rect x="943.1" y="688.1" width="17.5" height="10.8" fill="#f5f5f5"/>
<rect x="960.4" y="688.1" width="17.7" height="10.8" fill="#f6f6f6"/>
<rect x="977.9" y="688.1" width="17.8" height="10.8" fill="#f6f6f6"/>
<rect x="995.5" y="688.1" width="17.7" height="10.8" fill="#f5f5f5"/>
<rect x="873.2" y="698.7" width="17.6" height="17.3" fill="#fdfdfd"/>
<rect x="890.6" y="698.7" width="17.7" height="17.3" fill="#efefef"/>
<rect x="908.1" y="698.7" width="17.7" height="17.3" fill="#f4f4f4"/>
<rect x="925.6" y="698.7" width="17.7" height="17.3" fill="#f3f3f3"/>
<rect x="943.1" y="698.7" width="17.5" height="17.3" fill="#dcdcdc"/>
<rect x="960.4" y="698.7" width="17.7" height="17.3" fill="#e4e4e4"/>
<rect x="977.9" y="698.7" width="17.8" height="17.3" fill="#dedede"/>
<rect x="995.5" y="698.7" width="17.7" height="17.3" fill="#dddddd"/>
<rect x="1013.0" y="698.7" width="17.5" height="17.3" fill="#fdfdfd"/>
<rect x="908.1" y="715.8" width="17.7" height="13.6" fill="#f5f5f5"/>
<rect x="925.6" y="715.8" width="17.7" height="13.6" fill="#fcfcfc"/>
<rect x="943.1" y="715.8" width="17.5" height="13.6" fill="#fcfcfc"/>
<rect x="960.4" y="715.8" width="17.7" height="13.6" fill="#fdfdfd"/>
<rect x="977.9" y="715.8" width="17.8" height="13.6" fill="#fdfdfd"/>
<rect x="995.5" y="715.8" width="17.7" height="13.6" fill="#fdfdfd"/>
</svg>
</body>
</html>
